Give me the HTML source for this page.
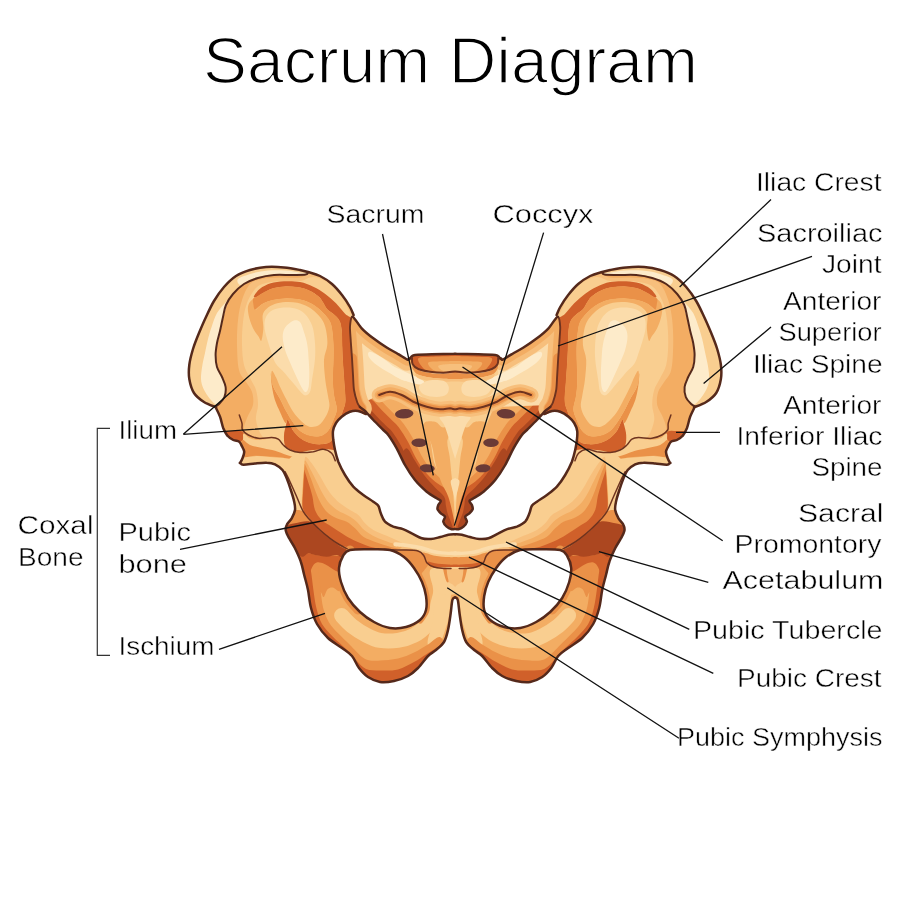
<!DOCTYPE html>
<html lang="en"><head><meta charset="utf-8"><title>Sacrum Diagram</title>
<style>
html,body{margin:0;padding:0;background:#fff}
svg{display:block}
text{font-family:"Liberation Sans",sans-serif;fill:#000;stroke:#fff;stroke-width:.45px}
.t{font-size:64px;stroke-width:1.6px}
.l{font-size:25.6px}
</style></head>
<body>
<svg width="900" height="900" viewBox="0 0 900 900">
<rect width="900" height="900" fill="#fff"/>
<defs>
<filter id="n" x="0" y="0" width="900" height="900" filterUnits="userSpaceOnUse"><feOffset dx="0" dy="0"/></filter>
<clipPath id="hc"><path d="M455.1 534.2C454 534.3 450.8 534.3 448.3 534.7C445.9 535.2 443.2 536.3 440.3 537C437.4 537.7 434.1 538.8 431 539C427.9 539.2 424.8 539.2 421.7 538.3C418.6 537.4 415.4 535.2 412.3 533.7C409.2 532.1 406.2 530.3 403 529.1C399.8 528 396.3 527.9 393.3 526.7C390.3 525.4 387.1 523.9 385 521.7C382.9 519.4 381.9 516 380.8 513.3C379.7 510.7 379.6 507.8 378.3 505.8C377.1 503.9 375.8 503.5 373.3 501.7C370.8 499.9 366.7 497.5 363.3 495C360 492.5 356.4 490 353.3 486.7C350.3 483.3 347.5 479.2 345 475C342.5 470.8 340 465.8 338.3 461.7C336.7 457.5 335.8 453.6 335 450C334.2 446.4 333.7 443.2 333.3 440C333 436.8 332.6 433.8 333 431C333.4 428.2 334.6 425.4 336 423C337.4 420.6 339.4 418.6 341.7 416.7C344 414.8 347.3 412.6 350 411.7C352.7 410.8 355.3 410.6 358 411C360.7 411.4 363.7 415.8 366 414C368.3 412.2 372 410.7 372 400C372 389.3 369.1 364.2 366 350C362.9 335.8 356.3 322.2 353.6 315C350.9 307.8 351.9 310.3 350 307C348.1 303.7 345 298.8 342 295C339 291.2 335.7 287.2 332 284C328.3 280.8 324 278 320 276C316 274 311.3 273 308 272C304.7 271 304 270.8 300 270C296 269.2 289.7 267.9 284 267.4C278.3 266.9 271.7 266.6 266 267C260.3 267.4 255 268.5 250 270C245 271.5 240.3 273.2 236 276C231.7 278.8 227.7 282.8 224 287C220.3 291.2 217 296 214 301C211 306 208.5 311.7 206 317C203.5 322.3 201.2 327.7 199 333C196.8 338.3 194.6 343.7 193 349C191.4 354.3 189.9 360 189.3 365C188.7 370 188.5 374.3 189.3 379C190.1 383.7 191.6 389.2 194 393C196.4 396.8 200.4 399.7 204 402C207.6 404.3 213.6 406.2 215.5 407C217.4 407.8 214.8 405.4 215.5 407C216.2 408.6 218.7 413.1 220 416.7C221.3 420.2 222.1 425.1 223.3 428.3C224.6 431.5 225.8 433.9 227.5 435.8C229.2 437.8 231.4 439 233.3 440C235.3 441 237.8 440.7 239.2 441.7C240.6 442.6 240.8 444.2 241.7 445.8C242.5 447.5 244 449.6 244.2 451.7C244.3 453.8 243.2 456.5 242.5 458.3C241.8 460.2 240.6 462.1 240.2 462.8C239.8 463.6 239.6 462.5 240.2 462.8C240.7 463.2 240.9 464.7 243.3 464.8C245.8 464.9 251.1 463.9 255 463.5C258.9 463.1 263.3 462.5 266.7 462.7C270 462.8 272.4 463.1 275 464.3C277.6 465.6 280.6 467.7 282.5 470C284.4 472.3 285.3 475 286.7 478.3C288.1 481.7 289.6 486.1 290.8 490C292.1 493.9 293.5 498.3 294.2 501.7C294.9 505 295.4 507.2 295 510C294.6 512.8 293.1 515.8 291.7 518.3C290.3 520.8 287.6 522.9 286.7 525C285.7 527.1 285.4 528.6 285.8 530.8C286.2 533.1 287.6 535.4 289.2 538.3C290.7 541.2 293.1 544.4 295 548.3C296.9 552.2 299.3 557.2 300.8 561.7C302.4 566.1 303 570.3 304.2 575C305.4 579.7 306.9 584.5 308 590C309.1 595.5 309.5 602.3 311 608C312.5 613.7 314.2 619 317 624C319.8 629 323.8 634 328 638C332.2 642 338 645 342 648C346 651 349.2 652.7 352 656C354.8 659.3 356.3 664.5 359 668C361.7 671.5 364.5 674.7 368 677C371.5 679.3 375.7 681.3 380 682C384.3 682.7 389.3 682 394 681C398.7 680 404 678.2 408 676C412 673.8 414.7 671.3 418 668C421.3 664.7 425 659 428 656C431 653 433.3 652.3 436 650C438.7 647.7 442 645.3 444 642C446 638.7 446.9 634.7 448 630C449.1 625.3 449.9 619 450.6 614C451.3 609 451.7 602.8 452.4 600C453.1 597.2 454.2 597.9 454.6 597.5C455 597.1 454.4 597.5 454.6 597.5C454.8 597.5 455.4 597.5 455.6 597.5C455.8 597.5 455.2 597.1 455.6 597.5C456 597.9 457.1 597.2 457.8 600C458.5 602.8 458.9 609 459.6 614C460.3 619 461.1 625.3 462.2 630C463.3 634.7 464.2 638.7 466.2 642C468.2 645.3 471.5 647.7 474.2 650C476.9 652.3 479.2 653 482.2 656C485.2 659 488.9 664.7 492.2 668C495.5 671.3 498.2 673.8 502.2 676C506.2 678.2 511.5 680 516.2 681C520.9 682 525.9 682.7 530.2 682C534.5 681.3 538.7 679.3 542.2 677C545.7 674.7 548.5 671.5 551.2 668C553.9 664.5 555.4 659.3 558.2 656C561 652.7 564.2 651 568.2 648C572.2 645 578 642 582.2 638C586.4 634 590.4 629 593.2 624C596 619 597.7 613.7 599.2 608C600.7 602.3 601.1 595.5 602.2 590C603.3 584.5 604.8 579.7 606 575C607.2 570.3 607.8 566.1 609.4 561.7C610.9 557.2 613.3 552.2 615.2 548.3C617.1 544.4 619.5 541.2 621 538.3C622.6 535.4 624 533.1 624.4 530.8C624.8 528.6 624.5 527.1 623.5 525C622.6 522.9 619.9 520.8 618.5 518.3C617.1 515.8 615.6 512.8 615.2 510C614.8 507.2 615.3 505 616 501.7C616.7 498.3 618.1 493.9 619.4 490C620.6 486.1 622.1 481.7 623.5 478.3C624.9 475 625.8 472.3 627.7 470C629.6 467.7 632.6 465.6 635.2 464.3C637.8 463.1 640.2 462.8 643.5 462.7C646.9 462.5 651.3 463.1 655.2 463.5C659.1 463.9 664.4 464.9 666.9 464.8C669.3 464.7 669.5 463.2 670 462.8C670.6 462.5 670.4 463.6 670 462.8C669.6 462.1 668.4 460.2 667.7 458.3C667 456.5 665.9 453.8 666 451.7C666.2 449.6 667.7 447.5 668.5 445.8C669.4 444.2 669.6 442.6 671 441.7C672.4 440.7 674.9 441 676.9 440C678.8 439 681 437.8 682.7 435.8C684.4 433.9 685.6 431.5 686.9 428.3C688.1 425.1 688.9 420.2 690.2 416.7C691.5 413.1 694 408.6 694.7 407C695.5 405.4 692.8 407.8 694.7 407C696.6 406.2 702.6 404.3 706.2 402C709.8 399.7 713.8 396.8 716.2 393C718.7 389.2 720.1 383.7 720.9 379C721.7 374.3 721.5 370 720.9 365C720.3 360 718.8 354.3 717.2 349C715.6 343.7 713.4 338.3 711.2 333C709 327.7 706.7 322.3 704.2 317C701.7 311.7 699.2 306 696.2 301C693.2 296 689.9 291.2 686.2 287C682.5 282.8 678.5 278.8 674.2 276C669.9 273.2 665.2 271.5 660.2 270C655.2 268.5 649.9 267.4 644.2 267C638.5 266.6 631.9 266.9 626.2 267.4C620.5 267.9 614.2 269.2 610.2 270C606.2 270.8 605.5 271 602.2 272C598.9 273 594.2 274 590.2 276C586.2 278 581.9 280.8 578.2 284C574.5 287.2 571.2 291.2 568.2 295C565.2 298.8 562.1 303.7 560.2 307C558.3 310.3 559.3 307.8 556.6 315C553.9 322.2 547.3 335.8 544.2 350C541.1 364.2 538.2 389.3 538.2 400C538.2 410.7 541.9 412.2 544.2 414C546.5 415.8 549.5 411.4 552.2 411C554.9 410.6 557.5 410.8 560.2 411.7C562.9 412.6 566.2 414.8 568.5 416.7C570.8 418.6 572.8 420.6 574.2 423C575.7 425.4 576.8 428.2 577.2 431C577.6 433.8 577.2 436.8 576.9 440C576.5 443.2 576 446.4 575.2 450C574.4 453.6 573.5 457.5 571.9 461.7C570.2 465.8 567.7 470.8 565.2 475C562.7 479.2 559.9 483.3 556.9 486.7C553.8 490 550.2 492.5 546.9 495C543.5 497.5 539.4 499.9 536.9 501.7C534.4 503.5 533.1 503.9 531.9 505.8C530.6 507.8 530.5 510.7 529.4 513.3C528.3 516 527.3 519.4 525.2 521.7C523.1 523.9 519.9 525.4 516.9 526.7C513.9 527.9 510.4 528 507.2 529.1C504 530.3 501 532.1 497.9 533.7C494.8 535.2 491.6 537.4 488.5 538.3C485.4 539.2 482.3 539.2 479.2 539C476.1 538.8 472.8 537.7 469.9 537C467 536.3 464.3 535.2 461.9 534.7C459.4 534.3 456.2 534.3 455.1 534.2C454 534.1 456.2 534.1 455.1 534.2ZM350 550C345.5 551.1 344.8 553 343 556C341.2 559 339.3 563.7 339 568C338.7 572.3 339.5 577 341 582C342.5 587 344.8 593 348 598C351.2 603 355.7 608 360 612C364.3 616 369 619.3 374 622C379 624.7 384.7 627.2 390 628C395.3 628.8 401 628.3 406 627C411 625.7 416.7 622.8 420 620C423.3 617.2 425 614 426 610C427 606 426.7 600.7 426 596C425.3 591.3 424 586.7 422 582C420 577.3 417 572.2 414 568C411 563.8 408 560 404 557C400 554 395.7 551.3 390 550C384.3 548.7 376.7 549.2 370 549.2C363.3 549.2 354.5 548.9 350 550ZM560.2 550C564.7 551.1 565.4 553 567.2 556C569 559 570.9 563.7 571.2 568C571.5 572.3 570.7 577 569.2 582C567.7 587 565.4 593 562.2 598C559 603 554.5 608 550.2 612C545.9 616 541.2 619.3 536.2 622C531.2 624.7 525.5 627.2 520.2 628C514.9 628.8 509.2 628.3 504.2 627C499.2 625.7 493.5 622.8 490.2 620C486.9 617.2 485.2 614 484.2 610C483.2 606 483.5 600.7 484.2 596C484.9 591.3 486.2 586.7 488.2 582C490.2 577.3 493.2 572.2 496.2 568C499.2 563.8 502.2 560 506.2 557C510.2 554 514.5 551.3 520.2 550C525.9 548.7 533.5 549.2 540.2 549.2C546.9 549.2 555.7 548.9 560.2 550Z" clip-rule="evenodd"/></clipPath>
<clipPath id="sc"><path d="M455.1 353.8C452 353.8 437 354 431.7 354.2C426.3 354.3 417.6 354.7 415 355C412.4 355.3 412.7 355.8 412 356.3C411.3 356.8 410.1 358.4 409.7 358.7C409.3 359 409.3 358.4 409 358.5C408.7 358.6 408.9 360.2 407.5 359.7C406.1 359.1 401.1 355.8 398.3 354.2C395.6 352.5 390 349.6 386.7 347.5C383.3 345.4 376.7 340.9 373.3 338.3C370 335.8 364.4 331.2 361.7 328.3C358.9 325.4 354.1 316.9 352.5 316.7C350.9 316.4 350.2 323.3 350 326.7C349.8 330 350.6 337.4 350.8 341.7C351.1 345.9 351.7 353.9 352 358.3C352.3 362.8 352.7 370.8 353 375C353.3 379.2 353.4 386.3 354 390C354.6 393.7 356.5 400.2 357.3 402.5C358.1 404.8 359 405.9 360 407C361 408.1 362.9 408.9 364.7 410.7C366.4 412.4 370.8 417.4 373.3 420C375.8 422.6 381.3 428 383.3 430C385.3 432 386.6 432.6 388.3 435C390.1 437.4 394.4 444.3 396.7 448.3C398.9 452.3 402.6 460.8 405 465C407.4 469.2 412.1 476.4 415 480C417.9 483.6 423.8 489.2 426.7 491.7C429.6 494.1 434.8 497.1 436.7 498.3C438.6 499.6 440.6 499.9 440.8 500.8C441.1 501.7 438.8 503.9 438.3 505C437.9 506.1 437.2 508.1 437.5 509.2C437.8 510.3 439.8 512.3 440.8 513.3C441.8 514.3 444.7 515.6 445 516.7C445.3 517.8 443.1 520.3 443.3 521.7C443.6 523 445.6 525.7 446.7 526.7C447.8 527.7 450.5 528.9 451.7 529.2C452.8 529.5 454.6 529 455.1 529C455.6 529 454.6 529 455.1 529C455.6 529 457.4 529.5 458.5 529.2C459.7 528.9 462.4 527.7 463.5 526.7C464.6 525.7 466.6 523 466.9 521.7C467.1 520.3 464.9 517.8 465.2 516.7C465.5 515.6 468.4 514.3 469.4 513.3C470.4 512.3 472.4 510.3 472.7 509.2C473 508.1 472.3 506.1 471.9 505C471.4 503.9 469.1 501.7 469.4 500.8C469.6 499.9 471.6 499.6 473.5 498.3C475.4 497.1 480.6 494.1 483.5 491.7C486.4 489.2 492.3 483.6 495.2 480C498.1 476.4 502.8 469.2 505.2 465C507.6 460.8 511.3 452.3 513.5 448.3C515.8 444.3 520.1 437.4 521.9 435C523.6 432.6 524.9 432 526.9 430C528.9 428 534.4 422.6 536.9 420C539.4 417.4 543.8 412.4 545.5 410.7C547.3 408.9 549.2 408.1 550.2 407C551.2 405.9 552.1 404.8 552.9 402.5C553.7 400.2 555.6 393.7 556.2 390C556.8 386.3 556.9 379.2 557.2 375C557.5 370.8 557.9 362.8 558.2 358.3C558.5 353.9 559.1 345.9 559.4 341.7C559.6 337.4 560.4 330 560.2 326.7C560 323.3 559.3 316.4 557.7 316.7C556.1 316.9 551.3 325.4 548.5 328.3C545.8 331.2 540.2 335.8 536.9 338.3C533.5 340.9 526.9 345.4 523.5 347.5C520.2 349.6 514.6 352.5 511.9 354.2C509.1 355.8 504.1 359.1 502.7 359.7C501.3 360.2 501.5 358.6 501.2 358.5C500.9 358.4 500.9 359 500.5 358.7C500.1 358.4 498.9 356.8 498.2 356.3C497.5 355.8 497.8 355.3 495.2 355C492.6 354.7 483.9 354.3 478.5 354.2C473.2 354 458.2 353.8 455.1 353.8C452 353.8 458.2 353.8 455.1 353.8Z"/></clipPath>
<g id="hf">
<path d="M300 270C297.3 269.6 289.7 267.9 284 267.4C278.3 266.9 271.7 266.6 266 267C260.3 267.4 255 268.5 250 270C245 271.5 240.3 273.2 236 276C231.7 278.8 227.7 282.8 224 287C220.3 291.2 217 296 214 301C211 306 208.5 311.7 206 317C203.5 322.3 201.2 327.7 199 333C196.8 338.3 194.6 343.7 193 349C191.4 354.3 189.9 360 189.3 365C188.7 370 188.5 374.3 189.3 379C190.1 383.7 191.6 389.2 194 393C196.4 396.8 200.4 399.7 204 402C207.6 404.3 213.6 406.2 215.5 407L215 406.4C215.7 406 217.4 405.6 219 404C220.6 402.4 223.3 399.8 224.4 397C225.5 394.2 226 390.3 225.6 387C225.2 383.7 223.4 380.3 222 377C220.6 373.7 218.1 370.7 217 367C215.9 363.3 215.6 359 215.6 355C215.6 351 216.3 347 217 343C217.7 339 219 335.3 220 331C221 326.7 222 321.3 223 317C224 312.7 224.3 308.8 226 305C227.7 301.2 230 297.5 233 294C236 290.5 239.8 286.7 244 284C248.2 281.3 253 279.5 258 278C263 276.5 268.3 275.5 274 275C279.7 274.5 286.7 275.1 292 275C297.3 274.9 302.9 275 305.6 274.6C308.3 274.2 307.6 272.9 308 272.6Z" fill="#f9ce90"/>
<path d="M226.4 301.4C229 298.4 232.3 294.4 232.4 295C232.5 295.6 228.5 301.3 227 305C225.5 308.7 224.7 312.7 223.6 317C222.5 321.3 221.6 326.7 220.6 331C219.6 335.3 218.3 339 217.6 343C216.9 347 216.2 351 216.2 355C216.2 359 216.6 363.3 217.6 367C218.6 370.7 221 373.7 222.4 377C223.8 380.3 225.4 383.7 225.8 387C226.2 390.3 225.7 394.3 224.6 397C223.5 399.7 220.8 402.1 219.4 403.4C218 404.7 217.6 405.3 216 404.6C214.4 403.9 212.1 401.6 210 399C207.9 396.4 205.1 392.3 203.6 389C202.1 385.7 201.2 383 201 379C200.8 375 201.7 369.3 202.4 365C203.1 360.7 204.1 357.3 205 353C205.9 348.7 206.9 343.3 208 339C209.1 334.7 210.1 331.3 211.6 327C213.1 322.7 214.5 317.3 217 313C219.5 308.7 223.8 304.4 226.4 301.4Z" fill="#fdebca"/>
<path d="M238 279C240 277.1 247 274.8 252 273.4C257 272 262.3 271.1 268 270.6C273.7 270.1 280.7 270.3 286 270.6C291.3 270.9 296.6 272.1 300 272.6C303.4 273.1 305.7 273.3 306.4 273.6C307.1 273.9 306.8 274.3 304.4 274.4C302 274.5 297.1 274.2 292 274.2C286.9 274.2 279.7 273.7 274 274.2C268.3 274.7 262.7 275.7 258 277C253.3 278.3 249 280.7 246 282C243 283.3 241.3 285.5 240 285C238.7 284.5 236 280.9 238 279Z" fill="#fdebca"/>
<path d="M250 284C253.3 280.5 257 280.1 262 279C267 277.9 273.7 277.8 280 277.5C286.3 277.2 294.7 278.2 300 277.5C305.3 276.8 307 272.6 312 273C317 273.4 324.5 276.3 330 280C335.5 283.7 340.7 289.2 345 295C349.3 300.8 350.2 307.5 356 315C361.8 322.5 376 322.5 380 340C384 357.5 386.7 398.3 380 420C373.3 441.7 353.3 463 340 470C326.7 477 311.7 466.2 300 462C288.3 457.8 278 449.3 270 445C262 440.7 256.3 438.5 252 436C247.7 433.5 244.8 433 244 430C243.2 427 245.5 422.2 247 418C248.5 413.8 252.2 409.3 253 405C253.8 400.7 253.2 395.8 252 392C250.8 388.2 248.2 385.7 246 382C243.8 378.3 240.5 376.2 239 370C237.5 363.8 237.2 353.3 237 345C236.8 336.7 237.2 327.5 238 320C238.8 312.5 240 306 242 300C244 294 246.7 287.5 250 284Z" fill="#f7bf7c"/>
<path d="M256 288C259.2 284.7 261.7 284.2 266 283C270.3 281.8 276.3 281.3 282 281C287.7 280.7 294.7 281.7 300 281C305.3 280.3 309 276.5 314 277C319 277.5 325.2 280.7 330 284C334.8 287.3 339.3 291.8 343 297C346.7 302.2 345.8 307.8 352 315C358.2 322.2 375.3 322.5 380 340C384.7 357.5 386.7 398.3 380 420C373.3 441.7 353.3 463 340 470C326.7 477 310.8 466.2 300 462C289.2 457.8 281.3 449.3 275 445C268.7 440.7 265.2 440.2 262 436C258.8 431.8 256.7 425.2 256 420C255.3 414.8 258 410 258 405C258 400 257.3 394.5 256 390C254.7 385.5 252 382.2 250 378C248 373.8 245.3 370.5 244 365C242.7 359.5 242.2 352.2 242 345C241.8 337.8 242.2 329 243 322C243.8 315 244.8 308.7 247 303C249.2 297.3 252.8 291.3 256 288Z" fill="#f9ce90"/>
<path d="M254 296C254.7 294.6 257.2 290.8 260 288.7C262.8 286.6 266.7 284.6 270.7 283.3C274.7 282.1 279.1 281.6 284 281.3C288.9 281.1 295.1 281.1 300 282C304.9 282.9 309.1 284.7 313.3 286.7C317.6 288.7 321.6 291.2 325.3 294C329.1 296.8 332.7 300 336 303.3C339.3 306.7 342.4 311.1 345.3 314C348.2 316.9 350.9 316 353.3 320.7C355.8 325.3 358.4 334 360 342C361.6 350 362 359.8 362.7 368.7C363.3 377.6 363.6 387.6 364 395.3C364.4 403.1 368.2 409.8 365.3 415.3C362.4 420.9 351.1 424.2 346.7 428.7C342.2 433.1 340.6 436.9 338.7 442C336.8 447.1 336.7 457.3 335.3 459.3C334 461.3 332.8 455.6 330.7 454C328.6 452.4 325.3 450.3 322.7 450C320 449.7 317.8 451.3 314.7 452C311.6 452.7 307.6 454.1 304 454C300.4 453.9 296.4 452.7 293.3 451.3C290.2 450 286.9 448.7 285.3 446C283.8 443.3 283.9 438.8 284 435.3C284.1 431.9 285.3 427.9 286 425.3C286.7 422.8 286.8 419.1 288 420C289.2 420.9 291.1 427.6 293.3 430.7C295.6 433.8 298.2 436.6 301.3 438.7C304.4 440.8 308.4 442.4 312 443.3C315.6 444.2 319.6 444.3 322.7 444C325.8 443.7 328.7 443.1 330.7 441.3C332.7 439.6 333.2 436.9 334.7 433.3C336.1 429.8 337.9 424 339.3 420C340.8 416 342.3 412.7 343.3 409.3C344.3 406 345.2 404.9 345.3 400C345.4 395.1 344.4 386.7 344 380C343.6 373.3 343 365.9 342.7 360C342.3 354.1 342.2 349.7 342 344.7C341.8 339.7 341.9 334 341.5 330C341 326 340.7 323.3 339.3 320.7C338 318 335.4 316 333.3 314C331.2 312 328.4 310.7 326.7 308.7C324.9 306.7 324 304 322.7 302C321.3 300 320.9 298.6 318.7 296.7C316.4 294.8 312.9 292.2 309.3 290.7C305.8 289.1 301.6 288 297.3 287.3C293.1 286.7 288.2 286.4 284 286.7C279.8 286.9 275.6 287.6 272 288.7C268.4 289.8 265.3 291.9 262.7 293.3C260 294.8 257.4 296.9 256 297.3C254.6 297.8 253.3 297.4 254 296Z" fill="#d0602a"/>
<path d="M252.7 299.3C253.3 297.6 254.3 298 256 296.9C257.7 295.9 260 294.4 262.7 292.9C265.3 291.5 268.4 289.5 272 288.4C275.6 287.3 279.8 286.6 284 286.4C288.2 286.2 293.1 286.4 297.3 287.1C301.6 287.7 305.8 288.8 309.3 290.4C312.9 292 316.4 294.5 318.7 296.4C320.9 298.3 321.6 300 322.9 302C324.3 304 325.2 306.7 326.9 308.7C328.7 310.7 331.5 312 333.6 314C335.7 316 338.2 318 339.6 320.7C341 323.3 341.3 326 341.7 330C342.2 334 342.1 339.7 342.3 344.7C342.5 349.7 342.6 354.1 342.9 360C343.3 365.9 343.8 373.3 344.3 380C344.7 386.7 345.7 395.1 345.6 400C345.5 404.9 344.6 406 343.6 409.3C342.6 412.7 341 416 339.6 420C338.2 424 336.4 429.7 334.9 433.3C333.5 436.9 333 439.8 330.9 441.6C328.9 443.4 325.8 443.9 322.7 444.3C319.5 444.6 315.6 444.5 312 443.6C308.4 442.7 304.4 441 301.3 438.9C298.2 436.8 295.6 434 293.3 430.9C291.1 427.8 289.3 421.6 288 420.3C286.7 418.9 286.7 424 285.3 422.7C284 421.3 281.7 415.8 280 412C278.3 408.2 276.3 404.2 274.9 400C273.6 395.8 272.7 391.1 272 386.7C271.3 382.2 270.7 373.3 270.9 373.3C271.2 373.3 271.8 382.4 273.3 386.7C274.8 390.9 277.8 394.4 280 398.7C282.2 402.9 284.4 408 286.7 412C288.9 416 291.1 419.6 293.3 422.7C295.6 425.8 297.3 428.6 300 430.7C302.7 432.8 306 434.4 309.3 435.3C312.7 436.2 316.9 436.8 320 436C323.1 435.2 325.8 433.3 328 430.7C330.2 428 331.9 423.6 333.3 420C334.8 416.4 336.6 413.3 336.7 409.3C336.8 405.3 334.7 400.9 334 396C333.3 391.1 332.8 386 332.7 380C332.6 374 333.2 365.9 333.3 360C333.4 354.1 333.6 349.7 333.3 344.7C333.1 339.7 332.6 333.8 332 330C331.4 326.2 331.1 324.4 330 322C328.9 319.6 327.2 317.6 325.3 315.3C323.4 313.1 321.3 310.8 318.7 308.7C316 306.6 312.9 304.2 309.3 302.7C305.8 301.1 301.6 300 297.3 299.3C293.1 298.7 288.4 298.4 284 298.7C279.6 298.9 274.4 299.7 270.7 300.7C266.9 301.7 264 303.1 261.3 304.7C258.7 306.2 256.2 309.6 254.7 310C253.1 310.4 252.3 309.1 252 307.3C251.7 305.6 252 301.1 252.7 299.3Z" fill="#ea9148"/>
<path d="M248 306.7C248.5 303.7 251.1 299.5 252.3 300C253.4 300.5 253.4 309 254.9 309.7C256.4 310.5 258.7 306 261.3 304.4C264 302.8 266.9 301.4 270.7 300.4C274.4 299.4 279.6 298.6 284 298.4C288.4 298.2 293.1 298.4 297.3 299.1C301.6 299.7 305.8 300.8 309.3 302.4C312.9 304 316 306.2 318.7 308.4C321.4 310.6 323.7 313.1 325.6 315.3C327.5 317.6 329.2 319.6 330.3 322C331.4 324.4 331.7 326.2 332.3 330C332.8 333.8 333.4 339.7 333.6 344.7C333.8 349.7 333.7 354.1 333.6 360C333.5 365.9 332.8 374 332.9 380C333 386 333.6 391.1 334.3 396C334.9 400.9 337 405.3 336.9 409.3C336.8 413.3 335 416.4 333.6 420C332.2 423.6 330.5 428 328.3 430.7C326 433.4 323.2 435.4 320 436.3C316.8 437.1 312.7 436.5 309.3 435.6C306 434.7 302.7 433 300 430.9C297.3 428.8 295.6 426 293.3 422.9C291.1 419.8 288.9 416.3 286.7 412.3C284.4 408.3 282.2 403.2 280 398.9C277.8 394.7 274.8 390.2 273.3 386.9C271.9 383.7 271.6 382 271.3 379.3C271.1 376.6 271.2 371 272 370.7C272.8 370.3 274.7 374.7 276 377.3C277.3 380 278.2 382.9 280 386.7C281.8 390.4 284.4 395.8 286.7 400C288.9 404.2 290.9 408.4 293.3 412C295.8 415.6 298.7 418.9 301.3 421.3C304 423.8 306.4 426 309.3 426.7C312.2 427.3 316 426.9 318.7 425.3C321.3 423.8 323.6 420.4 325.3 417.3C327.1 414.2 328.9 410.2 329.3 406.7C329.8 403.1 328.7 400.4 328 396C327.3 391.6 326 386 325.3 380C324.7 374 323.7 365.9 324 360C324.3 354.1 327 349.7 327.3 344.7C327.7 339.7 326.8 334 326 330C325.2 326 324.3 323.6 322.7 320.7C321 317.8 318.4 315 316 312.7C313.6 310.3 311.1 308.3 308 306.7C304.9 305 301.1 303.4 297.3 302.7C293.6 301.9 289.1 301.8 285.3 302C281.6 302.2 277.8 302.9 274.7 304C271.6 305.1 268.7 306.8 266.7 308.7C264.7 310.6 263.2 312 262.7 315.3C262.1 318.7 263.6 324.4 263.3 328.7C263.1 332.9 262.1 339.3 261.3 340.7C260.6 342 260 338.7 258.7 336.7C257.3 334.7 254.9 331.8 253.3 328.7C251.8 325.6 250.2 321.7 249.3 318C248.4 314.3 247.5 309.7 248 306.7Z" fill="#f3ad63"/>
<path d="M264.7 328.7C264.2 324.8 264.4 321.5 265.3 318.7C266.3 315.8 268 313.4 270.4 311.6C272.8 309.8 276.3 308.6 280 308C283.7 307.4 289 307.4 292.7 308C296.3 308.6 299.3 309.8 302 311.6C304.7 313.4 306.8 315.8 308.7 318.7C310.5 321.5 312 324.3 313.1 328.7C314.1 333 314.8 339.4 315.1 344.7C315.4 349.9 315.4 354.1 314.9 360C314.4 365.9 312.8 374.9 312 380C311.2 385.1 311.3 388.1 310.4 390.7C309.5 393.2 307.9 395 306.4 395.3C304.9 395.7 303.7 394.9 301.6 392.9C299.5 391 296.4 386.9 293.6 383.6C290.8 380.3 287.6 376.3 284.7 372.9C281.7 369.6 277.9 366.9 275.7 363.6C273.6 360.3 273 356.9 271.7 353.3C270.4 349.7 269.2 346.1 268 342C266.8 337.9 265.1 332.6 264.7 328.7Z" fill="#fbdcab"/>
<path d="M282.7 336.7C282.7 332.8 283.6 330 285.3 327.3C287.1 324.7 290.9 321.6 293.3 320.7C295.8 319.8 298.3 320.2 300 322C301.7 323.8 302.5 327.6 303.7 331.3C305 335.1 306.5 339.9 307.3 344.7C308.2 349.4 308.3 355.2 308.7 360C309 364.8 309.3 368.9 309.3 373.3C309.3 377.8 309.2 383.6 308.7 386.7C308.1 389.8 307 391.6 306 392C305 392.4 304.1 391.6 302.7 389.3C301.2 387.1 299.3 382.9 297.3 378.7C295.3 374.4 292.7 368.7 290.7 364C288.7 359.3 286.7 355.2 285.3 350.7C284 346.1 282.7 340.6 282.7 336.7Z" fill="#fdebca"/>
<path d="M223.3 431.7C224.4 430.6 230.2 431.1 233.3 431C236.4 430.9 240.2 430.2 242 431.3C243.8 432.4 244.3 435.7 244 437.5C243.7 439.3 241.8 441.4 240 442C238.2 442.6 235.6 441.8 233.3 441C231.1 440.2 228.3 438.9 226.7 437.3C225 435.8 222.2 432.7 223.3 431.7Z" fill="#d0602a"/>
<path d="M243.7 433.7C244.8 433.5 247.3 437.3 250 438.3C252.7 439.4 256.1 439.9 260 440C263.9 440.1 270 438.9 273.3 439.2C276.7 439.4 277.8 440.3 280 441.7C282.2 443.1 283.9 445.8 286.7 447.5C289.4 449.2 292.8 450.9 296.7 452C300.6 453.1 305.6 454.2 310 454.2C314.4 454.1 319.7 451.7 323.3 451.7C326.9 451.7 329.4 452.2 331.7 454.2C333.9 456.1 334.7 459.6 336.7 463.3C338.6 467.1 343.9 473.3 343.3 476.7C342.8 480 337.8 483.9 333.3 483.3C328.9 482.8 321.7 475.8 316.7 473.3C311.7 470.8 307.2 470.6 303.3 468.3C299.4 466.1 297.2 461.9 293.3 460C289.4 458.1 284.4 457.7 280 457C275.6 456.3 270.8 456.3 266.7 456C262.5 455.7 258.6 455.2 255 455.3C251.4 455.5 247.6 457.9 245.3 457C243.1 456.1 242.1 452.9 241.7 450C241.3 447.1 242.7 442.2 243 439.5C243.3 436.8 242.5 433.9 243.7 433.7Z" fill="#f9ce90"/>
<path d="M242.3 440C243.7 438.8 246.5 443.6 250 445C253.5 446.4 259.2 447.4 263.3 448.3C267.5 449.3 271.1 449.7 275 450.8C278.9 451.9 282.8 453.7 286.7 455C290.6 456.3 297.2 457.9 298.3 458.7C299.4 459.4 296.4 459.7 293.3 459.5C290.3 459.3 284.4 457.9 280 457.3C275.6 456.8 270.8 456.6 266.7 456.3C262.5 456.1 258.6 455.5 255 455.7C251.4 455.8 247.5 457.9 245.3 457.3C243.2 456.7 242.5 454.9 242 452C241.5 449.1 241 441.2 242.3 440Z" fill="#ea9148"/>
<path d="M240.7 463.7C238.8 462.7 241.3 459.2 243.7 458C246.1 456.8 251.2 456.4 255 456.2C258.8 455.9 262.5 456.4 266.7 456.7C270.8 456.9 275.6 457.3 280 457.8C284.4 458.4 289.4 458.2 293.3 460C297.2 461.8 301.1 465 303.3 468.3C305.6 471.7 307.2 477.5 306.7 480C306.1 482.5 302.2 482.8 300 483.3C297.8 483.9 295 483.1 293.3 483.3C291.7 483.6 291.2 486.2 290 485C288.8 483.8 287.5 478.8 285.8 475.8C284.2 472.9 282.1 469.6 280 467.5C277.9 465.4 277.5 463.9 273.3 463.3C269.2 462.8 260.4 463.9 255 464C249.6 464.1 242.6 464.7 240.7 463.7Z" fill="#f9ce90"/>
<path d="M303.3 451.7C310.8 450 327.5 448.3 333.3 450C339.2 451.7 336.4 457.5 338.3 461.7C340.3 465.8 342.5 470.8 345 475C347.5 479.2 350.3 483.3 353.3 486.7C356.4 490 360 492.5 363.3 495C366.7 497.5 370.8 499.9 373.3 501.7C375.8 503.5 377.1 503.9 378.3 505.8C379.6 507.8 379.7 510.7 380.8 513.3C381.9 516 382.9 519.4 385 521.7C387.1 523.9 390.3 525.4 393.3 526.7C396.4 527.9 398.9 527.5 403.3 529.2C407.8 530.8 414.4 534.9 420 536.7C425.6 538.5 433.9 536.7 436.7 540C439.4 543.3 445 554.4 436.7 556.7C428.3 558.9 401.7 554.4 386.7 553.3C371.7 552.2 357.8 553.3 346.7 550C335.6 546.7 327.2 539.7 320 533.3C312.8 526.9 308.9 521.7 303.3 511.7C297.8 501.7 289.2 481.9 286.7 473.3C284.2 464.7 285.6 463.6 288.3 460C291.1 456.4 295.8 453.3 303.3 451.7Z" fill="#f9ce90"/>
<path d="M305.8 456.7C307.1 456.7 309.6 460.6 311.7 463.3C313.8 466.1 316.1 469.7 318.3 473.3C320.6 476.9 322.8 481.4 325 485C327.2 488.6 329.2 491.9 331.7 495C334.2 498.1 336.9 500.8 340 503.3C343.1 505.8 346.9 508.1 350 510C353.1 511.9 355.8 512.8 358.3 515C360.8 517.2 362.5 520.8 365 523.3C367.5 525.8 369.7 527.9 373.3 530C376.9 532.1 382.2 533.9 386.7 535.8C391.1 537.8 395.8 539.6 400 541.7C404.2 543.8 411.7 546.7 411.7 548.3C411.7 549.9 404.2 550.8 400 551.3C395.8 551.9 395.6 551.9 386.7 551.7C377.8 551.4 357.8 553.1 346.7 550C335.6 546.9 326.1 538.1 320 533.3C313.9 528.6 312.5 524.3 310 521.3C307.5 518.3 306.4 517.8 305 515.3C303.6 512.9 302.2 510.3 301.7 506.7C301.2 503 301.8 498.1 302 493.3C302.2 488.6 302.6 483.3 303 478.3C303.4 473.3 303.9 466.9 304.3 463.3C304.8 459.7 304.6 456.7 305.8 456.7Z" fill="#f7bf7c"/>
<path d="M305.5 460.8C306.6 461.8 309.3 467.4 311.2 470.8C313 474.3 314.8 477.9 316.7 481.7C318.6 485.4 320.4 489.7 322.5 493.3C324.6 496.9 326.5 500.4 329.2 503.3C331.8 506.2 335.1 508.8 338.3 510.8C341.5 512.9 345.3 514 348.3 515.8C351.4 517.6 354 519.3 356.7 521.7C359.3 524 361.1 527.5 364.2 530C367.2 532.5 371 534.7 375 536.7C379 538.7 383.9 540.3 388.3 542C392.8 543.7 401.9 545.3 401.7 547C401.4 548.7 395.8 551.5 386.7 552C377.5 552.5 357.8 553.1 346.7 550C335.6 546.9 326.1 538.2 320 533.3C313.9 528.5 312.4 524.1 310 521C307.6 517.9 306.8 517.4 305.5 515C304.2 512.6 302.8 510.3 302.3 506.7C301.9 503.1 302.5 498.1 302.7 493.3C302.9 488.6 303.2 483.1 303.5 478.3C303.8 473.6 304.2 467.9 304.5 465C304.8 462.1 304.4 459.9 305.5 460.8Z" fill="#f3ad63"/>
<path d="M305.3 465C306.4 466.9 309.2 474.2 310.8 478.3C312.4 482.5 313.5 486.1 315 490C316.5 493.9 318.1 498.1 320 501.7C321.9 505.3 323.9 508.9 326.7 511.7C329.4 514.4 333.3 516.7 336.7 518.3C340 520 343.6 520 346.7 521.7C349.7 523.3 352.2 525.8 355 528.3C357.8 530.8 359.7 534.3 363.3 536.7C366.9 539 372.2 540.8 376.7 542.5C381.1 544.2 385.6 545.4 390 546.7C394.4 548 403.9 549.4 403.3 550.3C402.8 551.2 396.1 552.1 386.7 552C377.2 551.9 357.8 553.1 346.7 550C335.6 546.9 326.1 538.2 320 533.3C313.9 528.5 312.4 524.1 310 521C307.6 517.9 306.8 517.4 305.5 515C304.2 512.6 302.8 510.3 302.3 506.7C301.9 503.1 302.5 498.1 302.7 493.3C302.9 488.6 303.2 482.8 303.5 478.3C303.8 473.9 304.2 468.9 304.5 466.7C304.8 464.4 304.3 463.1 305.3 465Z" fill="#ea9148"/>
<path d="M304.5 470.8C305.4 473.2 308.3 482.4 309.7 486.7C311 491 311.6 492.8 312.5 496.7C313.4 500.6 313.5 506.1 315 510C316.5 513.9 318.9 517.2 321.7 520C324.4 522.8 328.3 524.4 331.7 526.7C335 528.9 338.1 531.1 341.7 533.3C345.3 535.6 348.6 537.8 353.3 540C358.1 542.2 364.7 545 370 546.7C375.3 548.3 385 549.1 385 550C385 550.9 376.4 551.9 370 552C363.6 552.1 353.3 552.8 346.7 550.8C340 548.8 334.4 543.3 330 540C325.6 536.7 323.3 534 320 530.8C316.7 527.6 312.4 523.5 310 520.8C307.6 518.2 307.1 517.4 305.8 515C304.6 512.6 303.1 510.3 302.7 506.7C302.2 503.1 302.8 497.8 303 493.3C303.2 488.9 303.6 483.5 303.8 480C304.1 476.5 304.2 474 304.3 472.5C304.4 471 303.6 468.5 304.5 470.8Z" fill="#d0602a"/>
<path d="M280 465C280.4 465.1 283.3 468.1 285 470.8C286.7 473.6 288.1 477.4 290 481.7C291.9 486 294.4 491.7 296.7 496.7C298.9 501.7 301.8 508.3 303.3 511.7C304.9 515 307.2 515.6 305.8 516.7C304.4 517.8 297.6 518.1 295 518.3C292.4 518.6 290 519.7 290 518.3C290 516.9 294.3 512.8 295 510C295.7 507.2 294.9 505 294.2 501.7C293.5 498.3 292.1 493.9 290.8 490C289.6 486.1 288.1 481.7 286.7 478.3C285.3 475 283.6 472.2 282.5 470C281.4 467.8 279.6 464.9 280 465Z" fill="#f9ce90"/>
<path d="M290 513.3C291.8 511.1 294.4 510.2 296.7 510C298.9 509.8 301.3 510.1 303.7 512C306 513.9 311.7 519.5 310.8 521.7C309.9 523.8 302.6 523.9 298.3 525C294 526.1 287.1 528.6 285 528.3C282.9 528.1 285 525.8 285.8 523.3C286.7 520.8 288.2 515.6 290 513.3Z" fill="#ea9148"/>
<path d="M296 566L338 553L350 549L458.1 549L458.1 720L290 720Z" fill="#f3ad63"/>
<path d="M341.6 615.6C343.3 617.3 347.9 622.8 352 626C356.1 629.2 361.3 632.6 366 635C370.7 637.4 374.7 639.5 380 640.4C385.3 641.3 392.3 641.2 398 640.4C403.7 639.6 409.3 637.8 414 635.4C418.7 633 422.5 629.9 426 626C429.5 622.1 432.7 617 435 612C437.3 607 438.8 600.7 440 596C441.2 591.3 442 586 442.4 584" fill="none" stroke="#f9ce90" stroke-width="15" stroke-linejoin="round" stroke-linecap="round"/>
<path d="M433 580C434.4 576.8 439 575 442 575C445 575 449.8 573.5 451 580C452.2 586.5 450.2 605.7 449.2 614C448.2 622.3 446.8 625.1 445.2 630C443.6 634.9 442 640.3 439.6 643.6C437.2 646.9 433 650.3 431 650C429 649.7 427.5 646 427.6 642C427.7 638 430.5 631.3 431.6 626C432.7 620.7 433.7 615.3 434 610C434.3 604.7 433.8 599 433.6 594C433.4 589 431.6 583.2 433 580Z" fill="#f9ce90"/>
<path d="M298 548C306.7 541 341.8 544.3 350 548C358.2 551.7 348 564.3 347 570C346 575.7 345.3 578.9 344 582.4C342.7 585.9 341 590.1 339.2 591C337.4 591.9 334.9 587.9 333 587.6C331.1 587.3 329.2 587.6 327.6 589.2C326 590.8 324.9 596.5 323.6 597C322.3 597.5 322.3 592.2 320 592C317.7 591.8 313.7 596.3 310 596C306.3 595.7 300 598 298 590C296 582 289.3 555 298 548Z" fill="#ea9148"/>
<path d="M350 550C348.8 551 344.8 553 343 556C341.2 559 339.3 563.7 339 568C338.7 572.3 339.5 577 341 582C342.5 587 345.2 593.3 348 598C350.8 602.7 356.3 608 358 610" fill="none" stroke="#ea9148" stroke-width="9" stroke-linejoin="round" stroke-linecap="round"/>
<path d="M420 620C421 618.3 425 614 426 610C427 606 426.7 600.7 426 596C425.3 591.3 424 586.7 422 582C420 577.3 417 572.2 414 568C411 563.8 405.7 558.8 404 557" fill="none" stroke="#ea9148" stroke-width="7" stroke-linejoin="round" stroke-linecap="round"/>
<path d="M314.4 552C319.1 556.7 317.4 563.7 318.4 570C319.4 576.3 319.8 583.7 320.6 590C321.4 596.3 321.8 602.6 323.2 608C324.6 613.4 326.5 618.1 329 622.4C331.5 626.7 334.9 629.8 338.4 633.6C341.9 637.4 346.1 641.1 350 645C353.9 648.9 358.7 654.4 362 657C365.3 659.6 367 659.8 370 660.4C373 661 375.3 660.7 380 660.4C384.7 660.1 392.3 659.7 398 658.4C403.7 657.1 409 654.7 414 652.4C419 650.1 423.7 647 428 644.4C432.3 641.8 437 636.1 440 637C443 637.9 445.7 645.8 446 650C446.3 654.2 444.7 657.3 442 662C439.3 666.7 435.3 673 430 678C424.7 683 418.3 689 410 692C401.7 695 389 697.3 380 696C371 694.7 362.7 689.7 356 684C349.3 678.3 346 667.7 340 662C334 656.3 326 656 320 650C314 644 307.3 636 304 626C300.7 616 301.7 601 300 590C298.3 579 295.7 568 294 560C292.3 552 286.6 543.3 290 542C293.4 540.7 309.7 547.3 314.4 552Z" fill="#ea9148"/>
<path d="M306.8 552C310.3 556.7 309.7 563.7 310.8 570C311.9 576.3 312.5 583.7 313.4 590C314.3 596.3 315 602.3 316.4 608C317.8 613.7 319.3 619.3 322 624C324.7 628.7 328.8 632.4 332.6 636.4C336.4 640.4 341.1 644.1 345 648C348.9 651.9 352.5 656.5 356 660C359.5 663.5 362 667.3 366 669C370 670.7 374.7 670.3 380 670.4C385.3 670.5 392.3 670.8 398 669.4C403.7 668 409.3 664.5 414 662C418.7 659.5 422.2 656.8 426 654.4C429.8 652 434 649.6 437 647.6C440 645.6 442.5 642 444 642.4C445.5 642.8 446.3 646.7 446 650C445.7 653.3 444.7 657.3 442 662C439.3 666.7 435.3 673 430 678C424.7 683 418.3 689 410 692C401.7 695 389 697.3 380 696C371 694.7 362.7 689.7 356 684C349.3 678.3 346 667.7 340 662C334 656.3 326 656 320 650C314 644 307.3 636 304 626C300.7 616 301.7 601 300 590C298.3 579 295.7 568 294 560C292.3 552 287.9 543.3 290 542C292.1 540.7 303.3 547.3 306.8 552Z" fill="#d0602a"/>
<path d="M387 549.9C389.7 549.7 398.3 550.2 403 550.2C407.7 550.2 411.9 549.8 415 550.2C418.1 550.6 419.9 551.3 421.7 552.6C423.4 553.9 424.3 556 425.4 557.9C426.5 559.8 428.6 561.9 428.3 564.1C428 566.2 425.2 569.2 423.7 571C422.1 572.8 420.4 575.4 419 575C417.6 574.6 416.8 570.8 415 568.3C413.2 565.9 411.4 562.9 408.3 560.3C405.2 557.8 399.9 554.4 396.3 553C392.8 551.6 388.6 552.2 387 551.7C385.4 551.2 384.3 550.2 387 549.9Z" fill="#ea9148"/>
<path d="M299.2 555C300.8 553.9 304.9 553.2 308.3 553.3C311.8 553.5 315.8 555.4 320 555.8C324.2 556.2 329.9 555.6 333.3 555.8C336.8 556.1 339.9 554.9 340.8 557.5C341.8 560.1 341.8 570.6 339.2 571.7C336.5 572.8 328.8 565.7 325 564.2C321.2 562.6 318.8 561.9 316.7 562.5C314.5 563.1 313.3 564.9 312 567.5C310.7 570.1 309.3 574 308.7 578.3C308 582.6 309.2 590.8 308 593.3C306.8 595.8 302.6 596.7 301.7 593.3C300.8 590 303.1 578.9 302.5 573.3C301.9 567.8 298.9 563.1 298.3 560C297.8 556.9 297.5 556.1 299.2 555Z" fill="#d0602a"/>
<path d="M284.2 526.7C285.8 525.3 290.7 524.2 295 523.3C299.3 522.5 305.8 520.4 310 521.7C314.2 522.9 316.7 527.9 320 530.8C323.3 533.8 326.5 536.5 330 539.2C333.5 541.8 338.1 544.9 340.8 546.7C343.6 548.5 346.2 548.3 346.3 550C346.4 551.7 342.9 556.2 341.3 557C339.7 557.8 339.1 555.1 336.7 555C334.2 554.9 330.3 556.7 326.7 556.7C323.1 556.7 318.1 555.6 315 555C311.9 554.4 310.3 553.1 308.3 553.3C306.4 553.6 304.9 556.4 303.3 556.7C301.8 556.9 300.6 556.4 299.2 555C297.8 553.6 296.7 551.1 295 548.3C293.3 545.6 290.8 541.2 289.2 538.3C287.5 535.5 285.8 533.3 285 531.3C284.2 529.4 282.5 528 284.2 526.7Z" fill="#ac4720"/>
</g>
<g id="hl">
<path d="M308 272.6C307.6 272.9 308.3 274.2 305.6 274.6C302.9 275 297.3 274.9 292 275C286.7 275.1 279.7 274.5 274 275C268.3 275.5 263 276.5 258 278C253 279.5 248.2 281.3 244 284C239.8 286.7 236 290.5 233 294C230 297.5 227.7 301.2 226 305C224.3 308.8 224 312.7 223 317C222 321.3 221 326.7 220 331C219 335.3 217.7 339 217 343C216.3 347 215.6 351 215.6 355C215.6 359 215.9 363.3 217 367C218.1 370.7 220.6 373.7 222 377C223.4 380.3 225.2 383.7 225.6 387C226 390.3 225.5 394.2 224.4 397C223.3 399.8 220.6 402.4 219 404C217.4 405.6 215.7 406 215 406.4" fill="none" stroke="#55291b" stroke-width="2" stroke-linejoin="round" stroke-linecap="round"/>
<path d="M239.3 415C239.8 416.4 241.5 420.8 242 423.3C242.5 425.8 241.4 428.1 242.5 430C243.6 431.9 245.7 433.6 248.3 435C251 436.4 254.4 437.9 258.3 438.3C262.2 438.8 268.3 437.4 271.7 437.5C275 437.6 276.4 437.9 278.3 439.2C280.3 440.4 281.4 443.2 283.3 445C285.3 446.8 287.2 448.8 290 450C292.8 451.2 296.1 452.2 300 452.5C303.9 452.8 309.4 452.2 313.3 451.7C317.2 451.1 320.3 448.9 323.3 449.2C326.4 449.4 329.7 451.4 331.7 453.3C333.7 455.3 334.7 459.6 335.3 460.8" fill="none" stroke="#6e331f" stroke-width="1.5" stroke-linejoin="round" stroke-linecap="round"/>
<path d="M285 471.7C285.8 473.3 288.1 477.5 290 481.7C291.9 485.8 294.4 491.7 296.7 496.7C298.9 501.7 301.1 507.8 303.3 511.7C305.6 515.6 307.2 516.9 310 520C312.8 523.1 316.7 526.9 320 530C323.3 533.1 326.7 535.8 330 538.3C333.3 540.8 337.2 543.3 340 545C342.8 546.7 345.8 548.1 347 548.7" fill="none" stroke="#6e331f" stroke-width="1.5" stroke-linejoin="round" stroke-linecap="round"/>
<path d="M384 549.6C387 549.7 396.3 549.8 402 550C407.7 550.2 414.3 550 418 551C421.7 552 422.5 554 424 556C425.5 558 425.3 561.2 427 563C428.7 564.8 431.2 566.1 434 567C436.8 567.9 441.2 568.1 444 568.4C446.8 568.7 449.8 568.6 451 568.6" fill="none" stroke="#6e331f" stroke-width="1.5" stroke-linejoin="round" stroke-linecap="round"/>
<path d="M353.6 315C353 313.7 351.9 310.3 350 307C348.1 303.7 345 298.8 342 295C339 291.2 335.7 287.2 332 284C328.3 280.8 324 278 320 276C316 274 311.3 273 308 272C304.7 271 304 270.8 300 270C296 269.2 289.7 267.9 284 267.4C278.3 266.9 271.7 266.6 266 267C260.3 267.4 255 268.5 250 270C245 271.5 240.3 273.2 236 276C231.7 278.8 227.7 282.8 224 287C220.3 291.2 217 296 214 301C211 306 208.5 311.7 206 317C203.5 322.3 201.2 327.7 199 333C196.8 338.3 194.6 343.7 193 349C191.4 354.3 189.9 360 189.3 365C188.7 370 188.5 374.3 189.3 379C190.1 383.7 191.6 389.2 194 393C196.4 396.8 200.4 399.7 204 402C207.6 404.3 213.6 406.2 215.5 407C217.4 407.8 214.8 405.4 215.5 407C216.2 408.6 218.7 413.1 220 416.7C221.3 420.2 222.1 425.1 223.3 428.3C224.6 431.5 225.8 433.9 227.5 435.8C229.2 437.8 231.4 439 233.3 440C235.3 441 237.8 440.7 239.2 441.7C240.6 442.6 240.8 444.2 241.7 445.8C242.5 447.5 244 449.6 244.2 451.7C244.3 453.8 243.2 456.5 242.5 458.3C241.8 460.2 240.6 462.1 240.2 462.8C239.8 463.6 239.6 462.5 240.2 462.8C240.7 463.2 240.9 464.7 243.3 464.8C245.8 464.9 251.1 463.9 255 463.5C258.9 463.1 263.3 462.5 266.7 462.7C270 462.8 272.4 463.1 275 464.3C277.6 465.6 280.6 467.7 282.5 470C284.4 472.3 285.3 475 286.7 478.3C288.1 481.7 289.6 486.1 290.8 490C292.1 493.9 293.5 498.3 294.2 501.7C294.9 505 295.4 507.2 295 510C294.6 512.8 293.1 515.8 291.7 518.3C290.3 520.8 287.6 522.9 286.7 525C285.7 527.1 285.4 528.6 285.8 530.8C286.2 533.1 287.6 535.4 289.2 538.3C290.7 541.2 293.1 544.4 295 548.3C296.9 552.2 299.3 557.2 300.8 561.7C302.4 566.1 303 570.3 304.2 575C305.4 579.7 306.9 584.5 308 590C309.1 595.5 309.5 602.3 311 608C312.5 613.7 314.2 619 317 624C319.8 629 323.8 634 328 638C332.2 642 338 645 342 648C346 651 349.2 652.7 352 656C354.8 659.3 356.3 664.5 359 668C361.7 671.5 364.5 674.7 368 677C371.5 679.3 375.7 681.3 380 682C384.3 682.7 389.3 682 394 681C398.7 680 404 678.2 408 676C412 673.8 414.7 671.3 418 668C421.3 664.7 425 659 428 656C431 653 433.3 652.3 436 650C438.7 647.7 442 645.3 444 642C446 638.7 446.9 634.7 448 630C449.1 625.3 449.9 619 450.6 614C451.3 609 451.7 602.8 452.4 600C453.1 597.2 454.2 597.9 454.6 597.5C455 597.1 454.6 597.5 454.6 597.5" fill="none" stroke="#55291b" stroke-width="2.5" stroke-linejoin="round" stroke-linecap="round"/>
<path d="M455.1 534.2C454 534.3 450.8 534.3 448.3 534.7C445.9 535.2 443.2 536.3 440.3 537C437.4 537.7 434.1 538.8 431 539C427.9 539.2 424.8 539.2 421.7 538.3C418.6 537.4 415.4 535.2 412.3 533.7C409.2 532.1 406.2 530.3 403 529.1C399.8 528 396.3 527.9 393.3 526.7C390.3 525.4 387.1 523.9 385 521.7C382.9 519.4 381.9 516 380.8 513.3C379.7 510.7 379.6 507.8 378.3 505.8C377.1 503.9 375.8 503.5 373.3 501.7C370.8 499.9 366.7 497.5 363.3 495C360 492.5 356.4 490 353.3 486.7C350.3 483.3 347.5 479.2 345 475C342.5 470.8 340 465.8 338.3 461.7C336.7 457.5 335.8 453.6 335 450C334.2 446.4 333.7 443.2 333.3 440C333 436.8 332.6 433.8 333 431C333.4 428.2 334.6 425.4 336 423C337.4 420.6 339.4 418.6 341.7 416.7C344 414.8 347.3 412.6 350 411.7C352.7 410.8 355.3 410.6 358 411C360.7 411.4 364.7 413.5 366 414" fill="none" stroke="#55291b" stroke-width="2.5" stroke-linejoin="round" stroke-linecap="round"/>
<path d="M350 550C345.5 551.1 344.8 553 343 556C341.2 559 339.3 563.7 339 568C338.7 572.3 339.5 577 341 582C342.5 587 344.8 593 348 598C351.2 603 355.7 608 360 612C364.3 616 369 619.3 374 622C379 624.7 384.7 627.2 390 628C395.3 628.8 401 628.3 406 627C411 625.7 416.7 622.8 420 620C423.3 617.2 425 614 426 610C427 606 426.7 600.7 426 596C425.3 591.3 424 586.7 422 582C420 577.3 417 572.2 414 568C411 563.8 408 560 404 557C400 554 395.7 551.3 390 550C384.3 548.7 376.7 549.2 370 549.2C363.3 549.2 354.5 548.9 350 550Z" fill="none" stroke="#55291b" stroke-width="2.5" stroke-linejoin="round" stroke-linecap="round"/>
</g>
</defs>
<g clip-path="url(#hc)">
<path d="M150 240H760V720H150Z" fill="#f3ad63"/>
<use href="#hf"/>
<use href="#hf" transform="translate(910.2,0) scale(-1,1)"/>
<path d="M455.1 520C452.6 522.1 444.3 529.8 440.3 532.3C436.3 534.8 434.1 534.6 431 535C427.9 535.4 424.3 535.6 421.7 535C419 534.4 416.7 530.8 415 531.7C413.3 532.6 412 537.3 411.7 540.3C411.3 543.4 412.4 548.3 413 549.9C413.6 551.5 413.6 549.5 415 549.9C416.4 550.3 420 551 421.7 552.3C423.3 553.6 424 555.8 425 557.7C426 559.6 426.2 562.1 427.7 563.7C429.1 565.2 431.1 566.3 433.7 567C436.2 567.7 439.4 567.8 443 568.1C446.6 568.3 453.1 568.4 455.1 568.5C457.1 568.6 453.1 568.6 455.1 568.5C457.1 568.4 463.6 568.3 467.2 568.1C470.8 567.8 474 567.7 476.5 567C479.1 566.3 481.1 565.2 482.5 563.7C484 562.1 484.2 559.6 485.2 557.7C486.2 555.8 486.9 553.6 488.5 552.3C490.2 551 493.8 550.3 495.2 549.9C496.6 549.5 496.6 551.5 497.2 549.9C497.8 548.3 498.9 543.4 498.5 540.3C498.2 537.3 496.9 532.6 495.2 531.7C493.5 530.8 491.2 534.4 488.5 535C485.9 535.6 482.3 535.4 479.2 535C476.1 534.6 473.9 534.8 469.9 532.3C465.9 529.8 457.6 522.1 455.1 520C452.6 517.9 457.6 517.9 455.1 520Z" fill="#f9ce90"/>
<path d="M455.1 551C454 551.1 451.7 551.8 448.3 551.7C445 551.5 439.4 550.9 435 549.9C430.6 549 426.1 547 421.7 545.9C417.2 544.9 412.8 544.3 408.3 543.7C403.9 543.1 397.2 541.9 395 542.3C392.8 542.8 392.8 545.5 395 546.3C397.2 547.2 403.9 546.8 408.3 547.4C412.8 548 417.2 548.9 421.7 549.9C426.1 551 430.6 552.8 435 553.7C439.4 554.5 445 554.7 448.3 555C451.7 555.3 454 555.4 455.1 555.5C456.2 555.6 454 555.6 455.1 555.5C456.2 555.4 458.5 555.3 461.9 555C465.2 554.7 470.8 554.5 475.2 553.7C479.6 552.8 484.1 551 488.5 549.9C493 548.9 497.4 548 501.9 547.4C506.3 546.8 513 547.2 515.2 546.3C517.4 545.5 517.4 542.8 515.2 542.3C513 541.9 506.3 543.1 501.9 543.7C497.4 544.3 493 544.9 488.5 545.9C484.1 547 479.6 549 475.2 549.9C470.8 550.9 465.2 551.5 461.9 551.7C458.5 551.8 456.2 551.1 455.1 551C454 550.9 456.2 550.9 455.1 551Z" fill="#fbdcab"/>
<path d="M455.1 557C454 557 451.7 557.4 448.3 557.1C445 556.9 439.3 556.4 435 555.7C430.7 554.9 423.9 551.8 422.3 552.6C420.8 553.4 424.6 558.2 425.7 560.3C426.8 562.5 427.4 564.4 429 565.7C430.6 566.9 431.8 566.9 435 567.8C438.2 568.7 445 570.4 448.3 571C451.7 571.6 454 571.4 455.1 571.5C456.2 571.6 454 571.6 455.1 571.5C456.2 571.4 458.5 571.6 461.9 571C465.2 570.4 472 568.7 475.2 567.8C478.4 566.9 479.6 566.9 481.2 565.7C482.8 564.4 483.4 562.5 484.5 560.3C485.6 558.2 489.4 553.4 487.9 552.6C486.3 551.8 479.5 554.9 475.2 555.7C470.9 556.4 465.2 556.9 461.9 557.1C458.5 557.4 456.2 557 455.1 557C454 557 456.2 557 455.1 557Z" fill="#ea9148"/>
<path d="M455.1 564.5C454 564.5 451.7 564.8 448.3 564.6C445 564.4 438.4 563.8 435 563.3C431.6 562.8 428.5 561.2 427.7 561.7C426.8 562.1 428.7 565 429.9 565.9C431.2 566.9 431.9 566.9 435 567.5C438.1 568.2 445 569.4 448.3 569.9C451.7 570.4 454 570.4 455.1 570.5C456.2 570.6 454 570.6 455.1 570.5C456.2 570.4 458.5 570.4 461.9 569.9C465.2 569.4 472.1 568.2 475.2 567.5C478.3 566.9 479 566.9 480.3 565.9C481.5 565 483.4 562.1 482.5 561.7C481.7 561.2 478.6 562.8 475.2 563.3C471.8 563.8 465.2 564.4 461.9 564.6C458.5 564.8 456.2 564.5 455.1 564.5C454 564.5 456.2 564.5 455.1 564.5Z" fill="#d0602a"/>
<path d="M455.1 567C451.8 567.1 439.2 567.1 435 567.8C430.8 568.5 430.6 569.1 429.9 571C429.2 572.9 430.1 576.3 430.7 579C431.4 581.7 432.1 584.6 433.7 587C435.3 589.4 437.9 592.3 440.3 593.7C442.8 595 445.9 594.9 448.3 595C450.8 595.1 454 594.2 455.1 594C456.2 593.8 454 593.8 455.1 594C456.2 594.2 459.4 595.1 461.9 595C464.3 594.9 467.4 595 469.9 593.7C472.3 592.3 474.9 589.4 476.5 587C478.1 584.6 478.8 581.7 479.5 579C480.1 576.3 481 572.9 480.3 571C479.6 569.1 479.4 568.5 475.2 567.8C471 567.1 458.5 567.1 455.1 567C451.8 566.9 458.5 566.9 455.1 567Z" fill="#f9ce90"/>
<path d="M455.1 569C453.4 568.9 446.2 567.4 444.6 568.6C443 569.8 445 574.2 445.7 576.3C446.3 578.5 447.2 580.3 448.3 581.7C449.4 583 451.2 583.4 452.3 584.3C453.5 585.2 454.6 586.6 455.1 587C455.6 587.4 454.6 587.4 455.1 587C455.6 586.6 456.7 585.2 457.9 584.3C459 583.4 460.8 583 461.9 581.7C463 580.3 463.9 578.5 464.5 576.3C465.2 574.2 467.2 569.8 465.6 568.6C464 567.4 456.9 568.9 455.1 569C453.4 569.1 456.9 569.1 455.1 569Z" fill="#f7bf7c"/>
<path d="M443.3 568.3C443.6 567.2 445.7 567.5 446.3 568.6C447 569.7 446.9 572.8 447.3 575C447.6 577.2 448.7 580.6 448.6 581.7C448.5 582.8 447.4 582.7 446.7 581.7C446.1 580.7 445.2 577.9 444.6 575.7C444 573.4 443 569.5 443.3 568.3ZM466.9 568.3C466.6 567.2 464.5 567.5 463.9 568.6C463.2 569.7 463.3 572.8 462.9 575C462.6 577.2 461.5 580.6 461.6 581.7C461.7 582.8 462.8 582.7 463.5 581.7C464.1 580.7 465 577.9 465.6 575.7C466.2 573.4 467.2 569.5 466.9 568.3Z" fill="#ea9148"/>
</g>
<use href="#hl"/>
<use href="#hl" transform="translate(910.2,0) scale(-1,1)"/>
<g clip-path="url(#sc)">
<path d="M330 300H580V540H330Z" fill="#f3ad63"/>
<path d="M358 404C358.3 404.5 358.9 405.9 360 407C361.1 408.1 362.4 408.5 364.7 410.7C366.9 412.8 370.2 416.8 373.3 420C376.4 423.2 380.8 427.5 383.3 430C385.8 432.5 386.1 431.9 388.3 435C390.6 438.1 393.9 443.3 396.7 448.3C399.4 453.3 401.9 459.7 405 465C408.1 470.3 411.4 475.6 415 480C418.6 484.4 423.1 488.6 426.7 491.7C430.3 494.7 434.3 496.8 436.7 498.3C439 499.9 440.6 499.7 440.8 500.8C441.1 501.9 438.9 503.6 438.3 505C437.8 506.4 437.1 507.8 437.5 509.2C437.9 510.6 439.6 512.1 440.8 513.3C442.1 514.6 444.6 515.3 445 516.7C445.4 518.1 443.1 520 443.3 521.7C443.6 523.3 445.3 525.4 446.7 526.7C448.1 527.9 450.3 528.8 451.7 529.2C453.1 529.6 454.5 529 455.1 529" fill="none" stroke="#ea9148" stroke-width="38" stroke-linejoin="round" stroke-linecap="round"/>
<path d="M358 404C358.3 404.5 358.9 405.9 360 407C361.1 408.1 362.4 408.5 364.7 410.7C366.9 412.8 370.2 416.8 373.3 420C376.4 423.2 380.8 427.5 383.3 430C385.8 432.5 386.1 431.9 388.3 435C390.6 438.1 393.9 443.3 396.7 448.3C399.4 453.3 401.9 459.7 405 465C408.1 470.3 411.4 475.6 415 480C418.6 484.4 423.1 488.6 426.7 491.7C430.3 494.7 434.3 496.8 436.7 498.3C439 499.9 440.6 499.7 440.8 500.8C441.1 501.9 438.9 503.6 438.3 505C437.8 506.4 437.1 507.8 437.5 509.2C437.9 510.6 439.6 512.1 440.8 513.3C442.1 514.6 444.6 515.3 445 516.7C445.4 518.1 443.1 520 443.3 521.7C443.6 523.3 445.3 525.4 446.7 526.7C448.1 527.9 450.3 528.8 451.7 529.2C453.1 529.6 454.5 529 455.1 529" fill="none" stroke="#d0602a" stroke-width="26" stroke-linejoin="round" stroke-linecap="round"/>
<path d="M358 404C358.3 404.5 358.9 405.9 360 407C361.1 408.1 362.4 408.5 364.7 410.7C366.9 412.8 370.2 416.8 373.3 420C376.4 423.2 380.8 427.5 383.3 430C385.8 432.5 386.1 431.9 388.3 435C390.6 438.1 393.9 443.3 396.7 448.3C399.4 453.3 401.9 459.7 405 465C408.1 470.3 411.4 475.6 415 480C418.6 484.4 423.1 488.6 426.7 491.7C430.3 494.7 434.3 496.8 436.7 498.3C439 499.9 440.6 499.7 440.8 500.8C441.1 501.9 438.9 503.6 438.3 505C437.8 506.4 437.1 507.8 437.5 509.2C437.9 510.6 439.6 512.1 440.8 513.3C442.1 514.6 444.6 515.3 445 516.7C445.4 518.1 443.1 520 443.3 521.7C443.6 523.3 445.3 525.4 446.7 526.7C448.1 527.9 450.3 528.8 451.7 529.2C453.1 529.6 454.5 529 455.1 529" fill="none" stroke="#ac4720" stroke-width="10" stroke-linejoin="round" stroke-linecap="round"/>
<path d="M552.2 404C551.9 404.5 551.3 405.9 550.2 407C549.1 408.1 547.8 408.5 545.5 410.7C543.3 412.8 540 416.8 536.9 420C533.8 423.2 529.4 427.5 526.9 430C524.4 432.5 524.1 431.9 521.9 435C519.6 438.1 516.3 443.3 513.5 448.3C510.8 453.3 508.3 459.7 505.2 465C502.1 470.3 498.8 475.6 495.2 480C491.6 484.4 487.1 488.6 483.5 491.7C479.9 494.7 475.9 496.8 473.5 498.3C471.2 499.9 469.6 499.7 469.4 500.8C469.1 501.9 471.3 503.6 471.9 505C472.4 506.4 473.1 507.8 472.7 509.2C472.3 510.6 470.6 512.1 469.4 513.3C468.1 514.6 465.6 515.3 465.2 516.7C464.8 518.1 467.1 520 466.9 521.7C466.6 523.3 464.9 525.4 463.5 526.7C462.1 527.9 459.9 528.8 458.5 529.2C457.1 529.6 455.7 529 455.1 529" fill="none" stroke="#ea9148" stroke-width="38" stroke-linejoin="round" stroke-linecap="round"/>
<path d="M552.2 404C551.9 404.5 551.3 405.9 550.2 407C549.1 408.1 547.8 408.5 545.5 410.7C543.3 412.8 540 416.8 536.9 420C533.8 423.2 529.4 427.5 526.9 430C524.4 432.5 524.1 431.9 521.9 435C519.6 438.1 516.3 443.3 513.5 448.3C510.8 453.3 508.3 459.7 505.2 465C502.1 470.3 498.8 475.6 495.2 480C491.6 484.4 487.1 488.6 483.5 491.7C479.9 494.7 475.9 496.8 473.5 498.3C471.2 499.9 469.6 499.7 469.4 500.8C469.1 501.9 471.3 503.6 471.9 505C472.4 506.4 473.1 507.8 472.7 509.2C472.3 510.6 470.6 512.1 469.4 513.3C468.1 514.6 465.6 515.3 465.2 516.7C464.8 518.1 467.1 520 466.9 521.7C466.6 523.3 464.9 525.4 463.5 526.7C462.1 527.9 459.9 528.8 458.5 529.2C457.1 529.6 455.7 529 455.1 529" fill="none" stroke="#d0602a" stroke-width="26" stroke-linejoin="round" stroke-linecap="round"/>
<path d="M552.2 404C551.9 404.5 551.3 405.9 550.2 407C549.1 408.1 547.8 408.5 545.5 410.7C543.3 412.8 540 416.8 536.9 420C533.8 423.2 529.4 427.5 526.9 430C524.4 432.5 524.1 431.9 521.9 435C519.6 438.1 516.3 443.3 513.5 448.3C510.8 453.3 508.3 459.7 505.2 465C502.1 470.3 498.8 475.6 495.2 480C491.6 484.4 487.1 488.6 483.5 491.7C479.9 494.7 475.9 496.8 473.5 498.3C471.2 499.9 469.6 499.7 469.4 500.8C469.1 501.9 471.3 503.6 471.9 505C472.4 506.4 473.1 507.8 472.7 509.2C472.3 510.6 470.6 512.1 469.4 513.3C468.1 514.6 465.6 515.3 465.2 516.7C464.8 518.1 467.1 520 466.9 521.7C466.6 523.3 464.9 525.4 463.5 526.7C462.1 527.9 459.9 528.8 458.5 529.2C457.1 529.6 455.7 529 455.1 529" fill="none" stroke="#ac4720" stroke-width="10" stroke-linejoin="round" stroke-linecap="round"/>
<path d="M455.1 488C453.7 488.3 450 488.6 446.7 490C443.3 491.4 436.9 492.2 435 496.7C433.1 501.1 433.1 510.6 435 516.7C436.9 522.8 443.3 530.3 446.7 533.3C450 536.4 453.7 534.7 455.1 535C456.5 535.3 453.7 535.3 455.1 535C456.5 534.7 460.2 536.4 463.5 533.3C466.9 530.3 473.3 522.8 475.2 516.7C477.1 510.6 477.1 501.1 475.2 496.7C473.3 492.2 466.9 491.4 463.5 490C460.2 488.6 456.5 488.3 455.1 488C453.7 487.7 456.5 487.7 455.1 488Z" fill="#d0602a"/>
<path d="M401.7 460C402.8 465.3 409.4 474.6 413.3 480C417.2 485.4 421.1 489.2 425 492.5C428.9 495.8 435 497.6 436.7 500C438.3 502.4 434.9 504.7 435 506.7C435.1 508.6 436.1 509.7 437.5 511.7C438.9 513.6 442.5 516.4 443.3 518.3C444.2 520.3 441.7 521.4 442.5 523.3C443.3 525.3 446.5 528.8 448.3 530C450.1 531.2 452.9 532.2 453.3 530.8C453.8 529.4 451.8 524.6 450.8 521.7C449.9 518.8 448.3 516.1 447.5 513.3C446.7 510.6 446.4 507.8 445.8 505C445.3 502.2 446 499.6 444.2 496.7C442.4 493.8 438.2 491 435 487.5C431.8 484 428 480.3 424.7 475.8C421.3 471.4 418 465.4 415 460.8C412 456.2 408.9 448.5 406.7 448.3C404.4 448.2 400.6 454.7 401.7 460ZM508.5 460C507.4 465.3 500.8 474.6 496.9 480C493 485.4 489.1 489.2 485.2 492.5C481.3 495.8 475.2 497.6 473.5 500C471.9 502.4 475.3 504.7 475.2 506.7C475.1 508.6 474.1 509.7 472.7 511.7C471.3 513.6 467.7 516.4 466.9 518.3C466 520.3 468.5 521.4 467.7 523.3C466.9 525.3 463.7 528.8 461.9 530C460.1 531.2 457.3 532.2 456.9 530.8C456.5 529.4 458.4 524.6 459.4 521.7C460.3 518.8 461.9 516.1 462.7 513.3C463.5 510.6 463.8 507.8 464.4 505C464.9 502.2 464.2 499.6 466 496.7C467.8 493.8 472 491 475.2 487.5C478.5 484 482.2 480.3 485.5 475.8C488.9 471.4 492.2 465.4 495.2 460.8C498.2 456.2 501.3 448.5 503.5 448.3C505.8 448.2 509.6 454.7 508.5 460Z" fill="#ac4720"/>
<path d="M455.1 405C451.8 405.3 441.3 406.7 435 406.7C428.7 406.7 419.5 402.2 417.5 405C415.5 407.8 420.9 417.5 423 423.3C425.1 429.2 428 433.1 430 440C432 446.9 432.2 457.8 435 465C437.8 472.2 443.6 476.4 446.7 483.3C449.7 490.3 451.9 499.6 453.3 506.7C454.7 513.8 454.8 522.8 455.1 526C455.4 529.2 454.8 529.2 455.1 526C455.4 522.8 455.5 513.8 456.9 506.7C458.3 499.6 460.5 490.3 463.5 483.3C466.6 476.4 472.4 472.2 475.2 465C478 457.8 478.2 446.9 480.2 440C482.2 433.1 485.1 429.2 487.2 423.3C489.3 417.5 494.7 407.8 492.7 405C490.7 402.2 481.5 406.7 475.2 406.7C468.9 406.7 458.5 405.3 455.1 405C451.8 404.7 458.5 404.7 455.1 405Z" fill="#f9ce90"/>
<path d="M455.1 422C453.1 422.9 446.7 427.6 443.3 427.5C440 427.4 438.3 422.2 435 421.7C431.7 421.1 424.2 420.3 423.7 424.2C423.1 428.1 429.6 438.2 431.7 445C433.7 451.8 434.2 458.6 435.8 465C437.5 471.4 439.6 478.1 441.7 483.3C443.8 488.6 446.4 491.1 448.3 496.7C450.3 502.2 452.2 511.4 453.3 516.7C454.5 521.9 454.8 526.1 455.1 528C455.4 529.9 454.8 529.9 455.1 528C455.4 526.1 455.7 521.9 456.9 516.7C458 511.4 459.9 502.2 461.9 496.7C463.8 491.1 466.5 488.6 468.5 483.3C470.6 478.1 472.7 471.4 474.4 465C476 458.6 476.5 451.8 478.5 445C480.6 438.2 487.1 428.1 486.5 424.2C486 420.3 478.5 421.1 475.2 421.7C471.9 422.2 470.2 427.4 466.9 427.5C463.5 427.6 457.1 422.9 455.1 422C453.1 421.1 457.1 421.1 455.1 422Z" fill="#f3ad63"/>
<path d="M455.1 430C453.8 431.7 448.4 435.6 447.5 440C446.6 444.4 449 451.1 449.7 456.7C450.3 462.2 450.8 467.8 451.3 473.3C451.9 478.9 452.5 483.9 453 490C453.5 496.1 454 503.8 454.3 510C454.7 516.2 455 524.2 455.1 527C455.2 529.8 455 529.8 455.1 527C455.2 524.2 455.5 516.2 455.9 510C456.2 503.8 456.7 496.1 457.2 490C457.7 483.9 458.3 478.9 458.9 473.3C459.4 467.8 459.9 462.2 460.5 456.7C461.2 451.1 463.6 444.4 462.7 440C461.8 435.6 456.4 431.7 455.1 430C453.8 428.3 456.4 428.3 455.1 430Z" fill="#f9ce90"/>
<path d="M455.1 416C452.6 416.1 441.8 415.2 440 416.7C438.2 418.2 442.8 421.7 444.2 425C445.6 428.3 446.8 431.9 448.3 436.7C449.9 441.4 452.2 449.6 453.3 453.3C454.5 457.1 454.8 458.1 455.1 459C455.4 459.9 454.8 459.9 455.1 459C455.4 458.1 455.7 457.1 456.9 453.3C458 449.6 460.3 441.4 461.9 436.7C463.4 431.9 464.6 428.3 466 425C467.4 421.7 472 418.2 470.2 416.7C468.4 415.2 457.6 416.1 455.1 416C452.6 415.9 457.6 415.9 455.1 416Z" fill="#fbdcab"/>
<path d="M455.1 478C454.4 478.5 451.3 479.1 450.8 480.8C450.3 482.6 451.4 485.7 452 488.3C452.6 491 453.7 494.4 454.2 496.7C454.7 498.9 454.9 501.1 455.1 502C455.3 502.9 454.9 502.9 455.1 502C455.3 501.1 455.5 498.9 456 496.7C456.6 494.4 457.6 491 458.2 488.3C458.8 485.7 459.9 482.6 459.4 480.8C458.9 479.1 455.8 478.5 455.1 478C454.4 477.5 455.8 477.5 455.1 478Z" fill="#fbdcab"/>
<path d="M395 413.8a9.2 4.7 -4 1 0 18.4 0a9.2 4.7 -4 1 0 -18.4 0Z" fill="#6a3a36"/>
<path d="M496.8 413.8a9.2 4.7 4 1 0 18.4 0a9.2 4.7 4 1 0 -18.4 0Z" fill="#6a3a36"/>
<path d="M411.4 442.8a7.8 4.2 0 1 0 15.6 0a7.8 4.2 0 1 0 -15.6 0Z" fill="#6a3a36"/>
<path d="M483.2 442.8a7.8 4.2 0 1 0 15.6 0a7.8 4.2 0 1 0 -15.6 0Z" fill="#6a3a36"/>
<path d="M419.7 468.3a7.5 4 4 1 0 15 0a7.5 4 4 1 0 -15 0Z" fill="#6a3a36"/>
<path d="M475.5 468.3a7.5 4 -4 1 0 15 0a7.5 4 -4 1 0 -15 0Z" fill="#6a3a36"/>
<path d="M330 290L580.2 290L580.2 408L551.2 405L460.2 408.3L470.2 409.2L483.5 406.7L496.9 401.7L508.5 395L520.2 391.7L531 395L455.1 409.3L450 408.3L440 409.2L426.7 406.7L413.3 401.7L401.7 395L390 391.7L379.2 395L359 405L330 408Z" fill="#fbdcab"/>
<path d="M455.1 374C451.5 374 439.2 374.6 433.3 374.2C427.5 373.8 423.3 372.8 420 371.7C416.7 370.6 414.7 367.2 413.3 367.5C412 367.8 411.9 370.7 412 373.3C412.1 376 413.1 380 414.2 383.3C415.2 386.7 416.2 390.6 418.3 393.3C420.4 396.1 423.1 397.8 426.7 400C430.3 402.2 435.3 405 440 406.7C444.7 408.3 452.6 409.4 455.1 410C457.6 410.6 452.6 410.6 455.1 410C457.6 409.4 465.5 408.3 470.2 406.7C474.9 405 479.9 402.2 483.5 400C487.1 397.8 489.8 396.1 491.9 393.3C494 390.6 495 386.7 496 383.3C497.1 380 498.1 376 498.2 373.3C498.3 370.7 498.2 367.8 496.9 367.5C495.5 367.2 493.5 370.6 490.2 371.7C486.9 372.8 482.7 373.8 476.9 374.2C471 374.6 458.7 374 455.1 374C451.5 374 458.7 374 455.1 374Z" fill="#f9ce90"/>
<path d="M379.2 395C381 394.4 386.2 391.7 390 391.7C393.8 391.7 397.8 393.3 401.7 395C405.6 396.7 409.2 399.7 413.3 401.7C417.5 403.6 422.2 405.4 426.7 406.7C431.1 407.9 436.1 408.9 440 409.2C443.9 409.4 447.5 408.3 450 408.3C452.5 408.4 453.4 409.3 455.1 409.3C456.8 409.3 457.7 408.4 460.2 408.3C462.7 408.3 466.3 409.4 470.2 409.2C474.1 408.9 479.1 407.9 483.5 406.7C488 405.4 492.7 403.6 496.9 401.7C501 399.7 504.6 396.7 508.5 395C512.4 393.3 516.5 391.7 520.2 391.7C524 391.7 529.2 394.4 531 395" fill="none" stroke="#f7bf7c" stroke-width="15" stroke-linejoin="round" stroke-linecap="round"/>
<path d="M379.2 395C381 394.4 386.2 391.7 390 391.7C393.8 391.7 397.8 393.3 401.7 395C405.6 396.7 409.2 399.7 413.3 401.7C417.5 403.6 422.2 405.4 426.7 406.7C431.1 407.9 436.1 408.9 440 409.2C443.9 409.4 447.5 408.3 450 408.3C452.5 408.4 453.4 409.3 455.1 409.3C456.8 409.3 457.7 408.4 460.2 408.3C462.7 408.3 466.3 409.4 470.2 409.2C474.1 408.9 479.1 407.9 483.5 406.7C488 405.4 492.7 403.6 496.9 401.7C501 399.7 504.6 396.7 508.5 395C512.4 393.3 516.5 391.7 520.2 391.7C524 391.7 529.2 394.4 531 395" fill="none" stroke="#f3ad63" stroke-width="9" stroke-linejoin="round" stroke-linecap="round"/>
<path d="M413.3 401.7C415.6 402.5 422.2 405.4 426.7 406.7C431.1 407.9 436.1 408.9 440 409.2C443.9 409.4 447.5 408.3 450 408.3C452.5 408.4 453.4 409.3 455.1 409.3C456.8 409.3 457.7 408.4 460.2 408.3C462.7 408.3 466.3 409.4 470.2 409.2C474.1 408.9 479.1 407.9 483.5 406.7C488 405.4 494.6 402.5 496.9 401.7" fill="none" stroke="#ea9148" stroke-width="6" stroke-linejoin="round" stroke-linecap="round"/>
<path d="M379.2 395C381 394.7 386.2 393.1 390 393.3C393.8 393.6 397.8 394.8 401.7 396.3C405.6 397.8 411.4 401.3 413.3 402.3" fill="none" stroke="#ea9148" stroke-width="5" stroke-linejoin="round" stroke-linecap="round"/>
<path d="M531 395C529.2 394.7 524 393.1 520.2 393.3C516.5 393.6 512.4 394.8 508.5 396.3C504.6 397.8 498.8 401.3 496.9 402.3" fill="none" stroke="#ea9148" stroke-width="5" stroke-linejoin="round" stroke-linecap="round"/>
<path d="M407.5 359.7C406 358.8 401.8 356.2 398.3 354.2C394.9 352.1 390.8 350.1 386.7 347.5C382.5 344.9 377.5 341.5 373.3 338.3C369.2 335.1 365.1 331.9 361.7 328.3C358.2 324.7 354.4 316.9 352.5 316.7C350.6 316.4 350.3 322.5 350 326.7C349.7 330.8 350.5 336.4 350.8 341.7C351.2 346.9 351.6 352.8 352 358.3C352.4 363.9 352.7 369.7 353 375C353.3 380.3 353.3 385.4 354 390C354.7 394.6 356.2 399.4 357.3 402.5C358.5 405.6 360.2 407.4 360.8 408.3" fill="none" stroke="#f7bf7c" stroke-width="22" stroke-linejoin="round" stroke-linecap="round"/>
<path d="M407.5 359.7C406 358.8 401.8 356.2 398.3 354.2C394.9 352.1 390.8 350.1 386.7 347.5C382.5 344.9 377.5 341.5 373.3 338.3C369.2 335.1 365.1 331.9 361.7 328.3C358.2 324.7 354.4 316.9 352.5 316.7C350.6 316.4 350.3 322.5 350 326.7C349.7 330.8 350.5 336.4 350.8 341.7C351.2 346.9 351.6 352.8 352 358.3C352.4 363.9 352.7 369.7 353 375C353.3 380.3 353.3 385.4 354 390C354.7 394.6 356.2 399.4 357.3 402.5C358.5 405.6 360.2 407.4 360.8 408.3" fill="none" stroke="#f3ad63" stroke-width="12" stroke-linejoin="round" stroke-linecap="round"/>
<path d="M352 358.3C352.2 361.1 352.7 369.7 353 375C353.3 380.3 353.3 385.4 354 390C354.7 394.6 356.2 399.4 357.3 402.5C358.5 405.6 360.2 407.4 360.8 408.3" fill="none" stroke="#ea9148" stroke-width="10" stroke-linejoin="round" stroke-linecap="round"/>
<path d="M502.7 359.7C504.2 358.8 508.4 356.2 511.9 354.2C515.3 352.1 519.4 350.1 523.5 347.5C527.7 344.9 532.7 341.5 536.9 338.3C541 335.1 545.1 331.9 548.5 328.3C552 324.7 555.8 316.9 557.7 316.7C559.6 316.4 559.9 322.5 560.2 326.7C560.5 330.8 559.7 336.4 559.4 341.7C559 346.9 558.6 352.8 558.2 358.3C557.8 363.9 557.5 369.7 557.2 375C556.9 380.3 556.9 385.4 556.2 390C555.5 394.6 554 399.4 552.9 402.5C551.7 405.6 550 407.4 549.4 408.3" fill="none" stroke="#f7bf7c" stroke-width="22" stroke-linejoin="round" stroke-linecap="round"/>
<path d="M502.7 359.7C504.2 358.8 508.4 356.2 511.9 354.2C515.3 352.1 519.4 350.1 523.5 347.5C527.7 344.9 532.7 341.5 536.9 338.3C541 335.1 545.1 331.9 548.5 328.3C552 324.7 555.8 316.9 557.7 316.7C559.6 316.4 559.9 322.5 560.2 326.7C560.5 330.8 559.7 336.4 559.4 341.7C559 346.9 558.6 352.8 558.2 358.3C557.8 363.9 557.5 369.7 557.2 375C556.9 380.3 556.9 385.4 556.2 390C555.5 394.6 554 399.4 552.9 402.5C551.7 405.6 550 407.4 549.4 408.3" fill="none" stroke="#f3ad63" stroke-width="12" stroke-linejoin="round" stroke-linecap="round"/>
<path d="M558.2 358.3C558 361.1 557.5 369.7 557.2 375C556.9 380.3 556.9 385.4 556.2 390C555.5 394.6 554 399.4 552.9 402.5C551.7 405.6 550 407.4 549.4 408.3" fill="none" stroke="#ea9148" stroke-width="10" stroke-linejoin="round" stroke-linecap="round"/>
<path d="M370 351.7C372.2 351.8 377.5 354.9 381.7 357.5C385.8 360.1 390.8 364.2 395 367.5C399.2 370.8 405.1 375.3 406.7 377.5C408.2 379.7 406.9 381.5 404.2 380.8C401.4 380.1 394.6 376 390 373.3C385.4 370.7 380.2 367.8 376.7 365C373.1 362.2 369.8 358.9 368.7 356.7C367.6 354.4 367.8 351.5 370 351.7ZM540.2 351.7C538 351.8 532.7 354.9 528.5 357.5C524.4 360.1 519.4 364.2 515.2 367.5C511 370.8 505.1 375.3 503.5 377.5C502 379.7 503.3 381.5 506 380.8C508.8 380.1 515.6 376 520.2 373.3C524.8 370.7 530 367.8 533.5 365C537.1 362.2 540.4 358.9 541.5 356.7C542.6 354.4 542.4 351.5 540.2 351.7Z" fill="#fdebca"/>
<path d="M390 365.8C393.1 366.1 401.1 370 406.7 372.5C412.2 375 421 378.8 423.3 380.8C425.7 382.9 424.2 384.8 420.8 384.7C417.5 384.5 408.8 382.3 403.3 380C397.9 377.7 390.6 373.2 388.3 370.8C386.1 368.5 386.9 365.6 390 365.8ZM520.2 365.8C517.1 366.1 509.1 370 503.5 372.5C498 375 489.2 378.8 486.9 380.8C484.5 382.9 486 384.8 489.4 384.7C492.7 384.5 501.5 382.3 506.9 380C512.3 377.7 519.6 373.2 521.9 370.8C524.1 368.5 523.3 365.6 520.2 365.8Z" fill="#fdebca"/>
<path d="M455.1 352C451.2 352.3 438.4 353.3 431.7 353.7C425 354.1 418.5 353.8 415 354.3C411.5 354.8 411.3 354.9 410.8 356.7C410.4 358.4 411.1 362.5 412.3 364.7C413.6 366.8 415.4 368.4 418.3 369.7C421.3 370.9 425.8 371.7 430 372.3C434.2 372.9 439.1 373.1 443.3 373.3C447.5 373.5 453.1 373.5 455.1 373.5C457.1 373.5 453.1 373.5 455.1 373.5C457.1 373.5 462.7 373.5 466.9 373.3C471.1 373.1 476 372.9 480.2 372.3C484.4 371.7 488.9 370.9 491.9 369.7C494.8 368.4 496.6 366.8 497.9 364.7C499.1 362.5 499.8 358.4 499.4 356.7C498.9 354.9 498.7 354.8 495.2 354.3C491.7 353.8 485.2 354.1 478.5 353.7C471.9 353.3 459 352.3 455.1 352C451.2 351.7 459 351.7 455.1 352Z" fill="#d0602a"/>
<path d="M455.1 356C451.5 356.1 439.5 356.3 433.3 356.7C427.2 357.1 420 356.4 418.3 358.3C416.7 360.3 421.4 366.1 423.3 368.3C425.3 370.6 426.7 370.9 430 371.7C433.3 372.4 439.1 372.5 443.3 372.7C447.5 372.8 453.1 372.5 455.1 372.5C457.1 372.5 453.1 372.5 455.1 372.5C457.1 372.5 462.7 372.8 466.9 372.7C471.1 372.5 476.9 372.4 480.2 371.7C483.5 370.9 484.9 370.6 486.9 368.3C488.8 366.1 493.5 360.3 491.9 358.3C490.2 356.4 483 357.1 476.9 356.7C470.7 356.3 458.7 356.1 455.1 356C451.5 355.9 458.7 355.9 455.1 356Z" fill="#ea9148"/>
<path d="M455.1 361C453.1 361.1 447.8 361.1 443.3 361.3C438.9 361.6 430 361.1 428.3 362.5C426.7 363.9 430.8 368.4 433.3 370C435.8 371.6 439.7 371.7 443.3 372C447 372.3 453.1 372 455.1 372C457.1 372 453.1 372 455.1 372C457.1 372 463.2 372.3 466.9 372C470.5 371.7 474.4 371.6 476.9 370C479.4 368.4 483.5 363.9 481.9 362.5C480.2 361.1 471.3 361.6 466.9 361.3C462.4 361.1 457.1 361.1 455.1 361C453.1 360.9 457.1 360.9 455.1 361Z" fill="#f3ad63"/>
<path d="M455.1 364C453.7 364 449.5 363.9 446.7 364.2C443.9 364.5 439.2 364.8 438.3 365.8C437.5 366.9 440 369.4 441.7 370.3C443.3 371.3 446.1 371.5 448.3 371.7C450.6 371.9 454 371.5 455.1 371.5C456.2 371.5 454 371.5 455.1 371.5C456.2 371.5 459.6 371.9 461.9 371.7C464.1 371.5 466.9 371.3 468.5 370.3C470.2 369.4 472.7 366.9 471.9 365.8C471 364.8 466.3 364.5 463.5 364.2C460.7 363.9 456.5 364 455.1 364C453.7 364 456.5 364 455.1 364Z" fill="#f7bf7c"/>
<path d="M455.1 373C453.1 373.2 447.5 374 443.3 374C439.1 374 434.2 373.7 430 373C425.8 372.3 421.2 371.2 418.3 370C415.4 368.8 413.5 365.8 412.7 365.8C411.8 365.8 412.4 368.5 413.3 370C414.3 371.5 415.6 373.4 418.3 374.7C421.1 375.9 425.8 376.8 430 377.5C434.2 378.2 439.1 378.4 443.3 378.7C447.5 378.9 453.1 378.9 455.1 379C457.1 379.1 453.1 379.1 455.1 379C457.1 378.9 462.7 378.9 466.9 378.7C471.1 378.4 476 378.2 480.2 377.5C484.4 376.8 489.1 375.9 491.9 374.7C494.6 373.4 495.9 371.5 496.9 370C497.8 368.5 498.4 365.8 497.5 365.8C496.7 365.8 494.8 368.8 491.9 370C489 371.2 484.4 372.3 480.2 373C476 373.7 471.1 374 466.9 374C462.7 374 457.1 373.2 455.1 373C453.1 372.8 457.1 372.8 455.1 373Z" fill="#ea9148"/>
<path d="M455.1 379C453.1 378.9 447.5 378.9 443.3 378.7C439.1 378.4 434.2 378.2 430 377.5C425.8 376.8 420.8 375.4 418.3 374.7C415.8 374 415 372.7 415 373.3C415 373.9 415.8 377.1 418.3 378.3C420.8 379.6 425.8 380.4 430 381C434.2 381.6 439.1 381.6 443.3 381.7C447.5 381.8 453.1 381.5 455.1 381.5C457.1 381.5 453.1 381.5 455.1 381.5C457.1 381.5 462.7 381.8 466.9 381.7C471.1 381.6 476 381.6 480.2 381C484.4 380.4 489.4 379.6 491.9 378.3C494.4 377.1 495.2 373.9 495.2 373.3C495.2 372.7 494.4 374 491.9 374.7C489.4 375.4 484.4 376.8 480.2 377.5C476 378.2 471.1 378.4 466.9 378.7C462.7 378.9 457.1 378.9 455.1 379C453.1 379.1 457.1 379.1 455.1 379Z" fill="#f7bf7c"/>
<path d="M420 385C421.7 383.4 426.1 381 430 380.3C433.9 379.6 440.2 379.8 443.3 380.8C446.4 381.9 448.1 384.4 448.7 386.7C449.2 388.9 448.7 392.4 446.7 394.2C444.7 395.9 440.3 396.9 436.7 397C433.1 397.1 427.8 396.2 425 395C422.2 393.8 420.5 391.7 419.7 390C418.8 388.3 418.3 386.6 420 385ZM490.2 385C488.5 383.4 484.1 381 480.2 380.3C476.3 379.6 470 379.8 466.9 380.8C463.8 381.9 462.1 384.4 461.5 386.7C461 388.9 461.5 392.4 463.5 394.2C465.5 395.9 469.9 396.9 473.5 397C477.1 397.1 482.4 396.2 485.2 395C488 393.8 489.7 391.7 490.5 390C491.4 388.3 491.9 386.6 490.2 385Z" fill="#fbdcab"/>
</g>
<g id="mid">
<path d="M352.5 316.7C350.9 316.4 350.2 323.3 350 326.7C349.8 330 350.6 337.4 350.8 341.7C351.1 345.9 351.7 353.9 352 358.3C352.3 362.8 352.7 370.8 353 375C353.3 379.2 353.4 386.3 354 390C354.6 393.7 356.5 400.2 357.3 402.5C358.1 404.8 359 405.9 360 407" fill="none" stroke="#6e331f" stroke-width="1.9" stroke-linejoin="round" stroke-linecap="round"/>
<path d="M550.2 407C551.2 405.9 552.1 404.8 552.9 402.5C553.7 400.2 555.6 393.7 556.2 390C556.8 386.3 556.9 379.2 557.2 375C557.5 370.8 557.9 362.8 558.2 358.3C558.5 353.9 559.1 345.9 559.4 341.7C559.6 337.4 560.4 330 560.2 326.7C560 323.3 559.3 316.4 557.7 316.7" fill="none" stroke="#6e331f" stroke-width="1.9" stroke-linejoin="round" stroke-linecap="round"/>
<path d="M557.7 316.7C556.1 316.9 551.3 325.4 548.5 328.3C545.8 331.2 540.2 335.8 536.9 338.3C533.5 340.9 526.9 345.4 523.5 347.5C520.2 349.6 514.6 352.5 511.9 354.2C509.1 355.8 504.1 359.1 502.7 359.7C501.3 360.2 501.5 358.6 501.2 358.5C500.9 358.4 500.9 359 500.5 358.7C500.1 358.4 498.9 356.8 498.2 356.3C497.5 355.8 497.8 355.3 495.2 355C492.6 354.7 483.9 354.3 478.5 354.2C473.2 354 458.2 353.8 455.1 353.8C452 353.8 458.2 353.8 455.1 353.8C452 353.8 437 354 431.7 354.2C426.3 354.3 417.6 354.7 415 355C412.4 355.3 412.7 355.8 412 356.3C411.3 356.8 410.1 358.4 409.7 358.7C409.3 359 409.3 358.4 409 358.5C408.7 358.6 408.9 360.2 407.5 359.7C406.1 359.1 401.1 355.8 398.3 354.2C395.6 352.5 390 349.6 386.7 347.5C383.3 345.4 376.7 340.9 373.3 338.3C370 335.8 364.4 331.2 361.7 328.3C358.9 325.4 354.1 316.9 352.5 316.7" fill="none" stroke="#55291b" stroke-width="2.5" stroke-linejoin="round" stroke-linecap="round"/>
<path d="M360 407C361 408.1 362.9 408.9 364.7 410.7C366.4 412.4 370.8 417.4 373.3 420C375.8 422.6 381.3 428 383.3 430C385.3 432 386.6 432.6 388.3 435C390.1 437.4 394.4 444.3 396.7 448.3C398.9 452.3 402.6 460.8 405 465C407.4 469.2 412.1 476.4 415 480C417.9 483.6 423.8 489.2 426.7 491.7C429.6 494.1 434.8 497.1 436.7 498.3C438.6 499.6 440.6 499.9 440.8 500.8C441.1 501.7 438.8 503.9 438.3 505C437.9 506.1 437.2 508.1 437.5 509.2C437.8 510.3 439.8 512.3 440.8 513.3C441.8 514.3 444.7 515.6 445 516.7C445.3 517.8 443.1 520.3 443.3 521.7C443.6 523 445.6 525.7 446.7 526.7C447.8 527.7 450.5 528.9 451.7 529.2C452.8 529.5 454.6 529 455.1 529C455.6 529 454.6 529 455.1 529C455.6 529 457.4 529.5 458.5 529.2C459.7 528.9 462.4 527.7 463.5 526.7C464.6 525.7 466.6 523 466.9 521.7C467.1 520.3 464.9 517.8 465.2 516.7C465.5 515.6 468.4 514.3 469.4 513.3C470.4 512.3 472.4 510.3 472.7 509.2C473 508.1 472.3 506.1 471.9 505C471.4 503.9 469.1 501.7 469.4 500.8C469.6 499.9 471.6 499.6 473.5 498.3C475.4 497.1 480.6 494.1 483.5 491.7C486.4 489.2 492.3 483.6 495.2 480C498.1 476.4 502.8 469.2 505.2 465C507.6 460.8 511.3 452.3 513.5 448.3C515.8 444.3 520.1 437.4 521.9 435C523.6 432.6 524.9 432 526.9 430C528.9 428 534.4 422.6 536.9 420C539.4 417.4 543.8 412.4 545.5 410.7C547.3 408.9 549.2 408.1 550.2 407" fill="none" stroke="#55291b" stroke-width="2.5" stroke-linejoin="round" stroke-linecap="round"/>
<path d="M412 358C412.1 359 411.6 362.3 412.7 364.2C413.7 366 415.4 367.8 418.3 369C421.2 370.2 425.8 371.1 430 371.7C434.2 372.3 439.7 372.7 443.3 372.7C447 372.7 450 371.9 452 371.7C454 371.5 454.1 371.5 455.1 371.5C456.1 371.5 456.2 371.5 458.2 371.7C460.2 371.9 463.2 372.7 466.9 372.7C470.5 372.7 476 372.3 480.2 371.7C484.4 371.1 489 370.2 491.9 369C494.8 367.8 496.5 366 497.5 364.2C498.6 362.3 498.1 359 498.2 358" fill="none" stroke="#6e331f" stroke-width="2" stroke-linejoin="round" stroke-linecap="round"/>
<path d="M379.2 395C381 394.4 386.2 391.7 390 391.7C393.8 391.7 397.8 393.3 401.7 395C405.6 396.7 409.2 399.7 413.3 401.7C417.5 403.6 422.2 405.4 426.7 406.7C431.1 407.9 436.1 408.9 440 409.2C443.9 409.4 447.5 408.3 450 408.3C452.5 408.4 453.4 409.3 455.1 409.3C456.8 409.3 457.7 408.4 460.2 408.3C462.7 408.3 466.3 409.4 470.2 409.2C474.1 408.9 479.1 407.9 483.5 406.7C488 405.4 492.7 403.6 496.9 401.7C501 399.7 504.6 396.7 508.5 395C512.4 393.3 516.5 391.7 520.2 391.7C524 391.7 529.2 394.4 531 395" fill="none" stroke="#6e331f" stroke-width="2.1" stroke-linejoin="round" stroke-linecap="round"/>
</g>
<path d="M382.5 234L433.3 475.3M543.6 232.6L454.4 525.6M771 199.5L679.6 287M812 256.3L558 346M771 327L703.6 383.4M720 432.4L676 432.4M722.7 540.7L462.5 367M708.3 582.3L598.9 551.7M689.3 629.3L506 542M713.3 673.3L468.9 557.2M679 738.3L447.2 587.8M183.3 434.3L282 346.7M183.3 434.3L303.3 425.7M180 549.3L326.7 520M219 649.3L325 613.3" stroke="#111" stroke-width="1.3" fill="none"/>
<path d="M110 428.3H97.3V655.3H110" stroke="#333" stroke-width="1.2" fill="none"/>
<g filter="url(#n)">
<text class="t" x="203" y="83" textLength="495" lengthAdjust="spacingAndGlyphs">Sacrum Diagram</text>
<g class="l">
<text x="756" y="191" textLength="125.5" lengthAdjust="spacingAndGlyphs">Iliac Crest</text>
<text x="757" y="241.7" textLength="125.5" lengthAdjust="spacingAndGlyphs">Sacroiliac</text>
<text x="822" y="272.8" textLength="59.5" lengthAdjust="spacingAndGlyphs">Joint</text>
<text x="783" y="310.2" textLength="98.5" lengthAdjust="spacingAndGlyphs">Anterior</text>
<text x="778.5" y="341.4" textLength="103" lengthAdjust="spacingAndGlyphs">Superior</text>
<text x="753" y="372.6" textLength="129.5" lengthAdjust="spacingAndGlyphs">Iliac Spine</text>
<text x="783" y="414" textLength="98.5" lengthAdjust="spacingAndGlyphs">Anterior</text>
<text x="736.5" y="445.2" textLength="146" lengthAdjust="spacingAndGlyphs">Inferior Iliac</text>
<text x="811.5" y="476.4" textLength="71" lengthAdjust="spacingAndGlyphs">Spine</text>
<text x="798" y="521.7" textLength="85.5" lengthAdjust="spacingAndGlyphs">Sacral</text>
<text x="734.5" y="552.7" textLength="147" lengthAdjust="spacingAndGlyphs">Promontory</text>
<text x="722.5" y="589" textLength="161" lengthAdjust="spacingAndGlyphs">Acetabulum</text>
<text x="693" y="639.3" textLength="189.5" lengthAdjust="spacingAndGlyphs">Pubic Tubercle</text>
<text x="737" y="687.3" textLength="144.5" lengthAdjust="spacingAndGlyphs">Pubic Crest</text>
<text x="677" y="746" textLength="205.5" lengthAdjust="spacingAndGlyphs">Pubic Symphysis</text>
<text x="118.5" y="439" textLength="58.5" lengthAdjust="spacingAndGlyphs">Ilium</text>
<text x="118.5" y="540.7" textLength="72.5" lengthAdjust="spacingAndGlyphs">Pubic</text>
<text x="118.5" y="573.3" textLength="68.5" lengthAdjust="spacingAndGlyphs">bone</text>
<text x="118.5" y="655" textLength="96" lengthAdjust="spacingAndGlyphs">Ischium</text>
<text x="17.5" y="534.3" textLength="76" lengthAdjust="spacingAndGlyphs">Coxal</text>
<text x="18" y="565.7" textLength="65.5" lengthAdjust="spacingAndGlyphs">Bone</text>
<text x="326.5" y="222.7" textLength="98" lengthAdjust="spacingAndGlyphs">Sacrum</text>
<text x="492.5" y="222.7" textLength="101" lengthAdjust="spacingAndGlyphs">Coccyx</text>
</g>
</g>
</svg>
</body></html>
